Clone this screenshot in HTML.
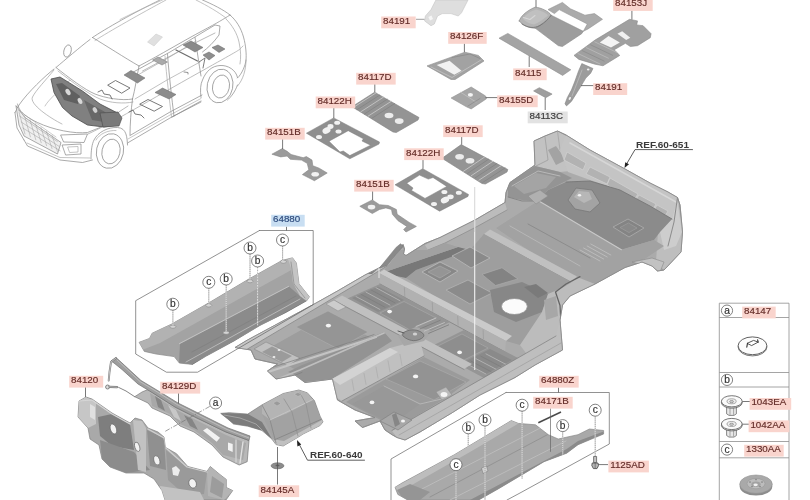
<!DOCTYPE html>
<html><head><meta charset="utf-8"><title>Floor covering parts diagram</title>
<style>
html,body{margin:0;padding:0;background:#fff;}
svg{display:block;font-family:"Liberation Sans",sans-serif;}
</style></head>
<body>
<svg width="810" height="500" viewBox="0 0 810 500">
<defs>
<filter id="soft" x="-5%" y="-5%" width="110%" height="110%"><feGaussianBlur stdDeviation="0.45"/></filter>
<filter id="tsoft" x="-5%" y="-20%" width="110%" height="140%"><feGaussianBlur stdDeviation="0.3"/></filter>
<filter id="gsoft" filterUnits="userSpaceOnUse" x="0" y="0" width="810" height="500"><feGaussianBlur stdDeviation="0.4"/></filter>
<filter id="soft2" x="-5%" y="-5%" width="110%" height="110%"><feGaussianBlur stdDeviation="0.8"/></filter>
</defs>
<rect width="810" height="500" fill="#fff"/>
<g filter="url(#gsoft)">
<g filter="url(#soft)">
<polygon points="534.0,141.0 545.0,136.0 557.5,131.0 566.0,135.0 590.0,150.0 625.0,169.0 650.0,183.0 668.0,192.0 677.5,197.5 680.0,205.0 682.5,232.0 681.0,252.0 664.0,270.0 657.5,271.0 652.0,266.0 642.0,262.0 625.0,267.5 595.0,284.0 570.0,296.0 562.5,305.0 560.0,320.0 562.5,350.0 535.0,365.0 515.0,377.5 480.0,395.0 452.5,412.5 420.0,432.0 405.0,440.0 397.0,437.5 392.5,435.0 385.0,430.0 380.0,421.0 362.5,427.5 355.0,421.0 375.0,417.5 355.0,410.0 337.5,400.0 332.5,379.0 305.0,382.5 295.0,375.0 276.0,379.0 267.5,371.0 277.5,364.0 255.0,359.0 251.0,350.0 235.0,347.5 247.5,340.0 280.0,322.5 312.5,305.0 337.5,291.0 365.0,275.0 380.0,267.5 400.0,249.0 403.0,244.5 404.5,249.0 403.5,254.0 406.0,255.5 425.0,243.5 440.0,237.5 475.0,220.0 505.0,202.5 506.0,192.5 510.0,182.5 535.0,165.0" fill="#ababab" stroke="#8a8a8a" stroke-width="0.8" stroke-linejoin="round" />
</g>
<g filter="url(#soft)">
<clipPath id="fc"><polygon points="534.0,141.0 545.0,136.0 557.5,131.0 566.0,135.0 590.0,150.0 625.0,169.0 650.0,183.0 668.0,192.0 677.5,197.5 680.0,205.0 682.5,232.0 681.0,252.0 664.0,270.0 657.5,271.0 652.0,266.0 642.0,262.0 625.0,267.5 595.0,284.0 570.0,296.0 562.5,305.0 560.0,320.0 562.5,350.0 535.0,365.0 515.0,377.5 480.0,395.0 452.5,412.5 420.0,432.0 405.0,440.0 397.0,437.5 392.5,435.0 385.0,430.0 380.0,421.0 362.5,427.5 355.0,421.0 375.0,417.5 355.0,410.0 337.5,400.0 332.5,379.0 305.0,382.5 295.0,375.0 276.0,379.0 267.5,371.0 277.5,364.0 255.0,359.0 251.0,350.0 235.0,347.5 247.5,340.0 280.0,322.5 312.5,305.0 337.5,291.0 365.0,275.0 380.0,267.5 400.0,249.0 403.0,244.5 404.5,249.0 403.5,254.0 406.0,255.5 425.0,243.5 440.0,237.5 475.0,220.0 505.0,202.5 506.0,192.5 510.0,182.5 535.0,165.0"/></clipPath>
<g clip-path="url(#fc)">
<polygon points="534.0,141.0 557.5,131.0 600.0,156.0 580.0,170.0 560.0,172.0 535.0,166.0" fill="#c2c2c2" stroke="none" stroke-width="0.6" stroke-linejoin="round" />
<polyline points="545.0,137.0 548.0,160.0 536.0,166.0" fill="none" stroke="#9a9a9a" stroke-width="0.7" stroke-linejoin="round" stroke-linecap="round" />
<polyline points="557.5,131.0 560.0,150.0 580.0,168.0" fill="none" stroke="#a0a0a0" stroke-width="0.7" stroke-linejoin="round" stroke-linecap="round" />
<polygon points="548.0,150.0 556.0,146.0 566.0,160.0 556.0,165.0" fill="#a3a3a3" stroke="none" stroke-width="0.6" stroke-linejoin="round" />
<polygon points="566.0,135.0 677.5,197.5 682.0,232.0 672.0,219.0 650.0,206.0 620.0,190.0 590.0,180.0 568.0,172.0 560.0,150.0" fill="#c4c4c4" stroke="none" stroke-width="0.6" stroke-linejoin="round" />
<polyline points="570.0,143.0 676.0,202.0" fill="none" stroke="#d6d6d6" stroke-width="1.6" stroke-linejoin="round" stroke-linecap="round" />
<polygon points="567.0,152.0 586.0,163.0 583.0,170.0 564.0,160.0" fill="#b2b2b2" stroke="#cfcfcf" stroke-width="0.8" stroke-linejoin="round" />
<polygon points="590.0,167.0 610.0,177.0 607.0,184.0 586.0,174.0" fill="#b2b2b2" stroke="#cfcfcf" stroke-width="0.8" stroke-linejoin="round" />
<polygon points="610.0,178.0 638.0,194.0 634.0,200.0 607.0,185.0" fill="#b2b2b2" stroke="#cfcfcf" stroke-width="0.8" stroke-linejoin="round" />
<polygon points="639.0,195.0 656.0,204.0 652.0,211.0 635.0,201.0" fill="#b2b2b2" stroke="#cfcfcf" stroke-width="0.8" stroke-linejoin="round" />
<polygon points="657.0,205.0 668.0,211.0 664.0,218.0 653.0,212.0" fill="#b2b2b2" stroke="#cfcfcf" stroke-width="0.8" stroke-linejoin="round" />
<polygon points="677.5,197.5 683.0,232.0 681.0,252.0 664.0,270.0 656.0,262.0 658.0,232.0 672.0,219.0" fill="#bebebe" stroke="none" stroke-width="0.6" stroke-linejoin="round" />
<polygon points="672.0,219.0 677.0,200.0 682.0,232.0 676.0,246.0 664.0,250.0 660.0,232.0" fill="#cdcdcd" stroke="none" stroke-width="0.6" stroke-linejoin="round" />
<polyline points="677.5,197.5 674.0,222.0 668.0,246.0" fill="none" stroke="#7a7a7a" stroke-width="0.8" stroke-linejoin="round" stroke-linecap="round" />
<polygon points="538.5,200.8 548.0,190.0 566.0,182.0 590.0,181.0 620.0,190.0 650.0,206.0 672.0,219.0 660.0,232.0 654.0,240.0 621.4,249.7" fill="#8b8b8b" stroke="none" stroke-width="0.6" stroke-linejoin="round" />
<polyline points="566.0,182.0 590.0,181.0 620.0,190.0 650.0,206.0 672.0,219.0" fill="none" stroke="#777" stroke-width="0.9" stroke-linejoin="round" stroke-linecap="round" />
<polygon points="496.0,228.0 538.5,200.8 621.4,249.7 654.0,240.0 664.0,246.0 640.0,262.0 625.0,267.5 595.0,284.0 572.0,280.0" fill="#a2a2a2" stroke="none" stroke-width="0.6" stroke-linejoin="round" />
<polyline points="538.5,200.8 621.4,249.7" fill="none" stroke="#c8c8c8" stroke-width="1.1" stroke-linejoin="round" stroke-linecap="round" />
<polyline points="528.0,224.0 590.0,258.0" fill="none" stroke="#8c8c8c" stroke-width="1.0" stroke-linejoin="round" stroke-linecap="round" />
<polyline points="510.0,226.0 580.0,266.0" fill="none" stroke="#bcbcbc" stroke-width="0.8" stroke-linejoin="round" stroke-linecap="round" />
<polygon points="568.0,200.0 576.0,188.0 592.0,190.0 600.0,203.0 590.0,212.0 575.0,209.0" fill="#a3a3a3" stroke="#787878" stroke-width="0.8" stroke-linejoin="round" />
<polygon points="574.0,197.0 579.0,191.0 589.0,192.0 592.0,199.0 584.0,203.0" fill="#b7b7b7" stroke="none" stroke-width="0.6" stroke-linejoin="round" />
<ellipse cx="579.5" cy="195.2" rx="1.7" ry="1.3" fill="#f2f2f2" stroke="none" stroke-width="0.6"/>
<path d="M613,227 L628,219 L644,228 L629,237 Z" fill="#848484" stroke="#a6a6a6" stroke-width="1" stroke-linejoin="round"/>
<path d="M620,227.5 L628.5,223 L637,228 L629,232.5 Z" fill="#898989" stroke="#9e9e9e" stroke-width="0.7" stroke-linejoin="round"/>
<polyline points="580.0,250.0 600.0,261.0" fill="none" stroke="#c2c2c2" stroke-width="0.8" stroke-linejoin="round" stroke-linecap="round" />
<polyline points="583.6,248.0 603.6,259.0" fill="none" stroke="#c2c2c2" stroke-width="0.8" stroke-linejoin="round" stroke-linecap="round" />
<polyline points="587.2,246.0 607.2,257.0" fill="none" stroke="#c2c2c2" stroke-width="0.8" stroke-linejoin="round" stroke-linecap="round" />
<polyline points="590.8,244.0 610.8,255.0" fill="none" stroke="#c2c2c2" stroke-width="0.8" stroke-linejoin="round" stroke-linecap="round" />
<polygon points="632.0,262.0 652.0,258.0 664.0,262.0 660.0,272.0 652.0,268.0" fill="#c2c2c2" stroke="#8a8a8a" stroke-width="0.6" stroke-linejoin="round" />
<ellipse cx="640" cy="263.5" rx="1.8" ry="1.2" fill="#f4f4f4" stroke="none" stroke-width="0.6"/>
<polygon points="508.0,183.0 535.0,166.0 560.0,172.0 572.0,178.0 548.0,190.0 538.5,201.0 522.0,200.0 508.0,197.0" fill="#949494" stroke="none" stroke-width="0.6" stroke-linejoin="round" />
<polygon points="514.0,186.0 536.0,173.0 556.0,177.0 546.0,188.0 524.0,194.0" fill="#a4a4a4" stroke="none" stroke-width="0.6" stroke-linejoin="round" />
<polyline points="512.0,186.0 538.0,171.0 560.0,176.0" fill="none" stroke="#c2c2c2" stroke-width="0.8" stroke-linejoin="round" stroke-linecap="round" />
<polyline points="508.0,197.0 522.0,201.0 538.0,201.0" fill="none" stroke="#7e7e7e" stroke-width="0.8" stroke-linejoin="round" stroke-linecap="round" />
<polygon points="528.0,196.0 540.0,190.0 548.0,196.0 536.0,204.0" fill="#b0b0b0" stroke="#8a8a8a" stroke-width="0.5" stroke-linejoin="round" />
<polygon points="484.0,234.0 490.0,229.5 577.0,276.5 571.0,282.0" fill="#c0c0c0" stroke="none" stroke-width="0.6" stroke-linejoin="round" />
<polyline points="484.0,235.0 571.0,282.0" fill="none" stroke="#8c8c8c" stroke-width="0.7" stroke-linejoin="round" stroke-linecap="round" />
<polygon points="235.0,347.5 400.0,250.0 404.0,256.0 240.0,353.5" fill="#c7c7c7" stroke="none" stroke-width="0.6" stroke-linejoin="round" />
<polyline points="240.0,353.5 404.0,256.0" fill="none" stroke="#888" stroke-width="0.8" stroke-linejoin="round" stroke-linecap="round" />
<polygon points="425.0,245.0 440.0,237.5 475.0,220.0 505.0,202.5 507.0,210.0 478.0,226.0 445.0,243.0 428.0,250.0" fill="#bcbcbc" stroke="none" stroke-width="0.6" stroke-linejoin="round" />
<polyline points="428.0,250.0 445.0,243.0 478.0,226.0 507.0,210.0" fill="none" stroke="#8a8a8a" stroke-width="0.7" stroke-linejoin="round" stroke-linecap="round" />
<polygon points="406.0,278.0 416.0,270.0 470.0,250.0 484.0,234.0 571.0,282.0 562.0,305.0 560.0,320.0 520.0,345.0 506.0,341.0" fill="#9e9e9e" stroke="none" stroke-width="0.6" stroke-linejoin="round" />
<polygon points="382.0,273.0 458.0,247.0 470.0,250.0 416.0,270.0 406.0,278.0" fill="#787878" stroke="none" stroke-width="0.6" stroke-linejoin="round" />
<polygon points="399.0,245.0 403.0,247.0 372.0,274.0 367.0,274.0" fill="#818181" stroke="none" stroke-width="0.6" stroke-linejoin="round" />
<polygon points="400.0,250.0 428.0,250.0 445.0,243.0 458.0,247.0 382.0,273.0" fill="#a1a1a1" stroke="none" stroke-width="0.6" stroke-linejoin="round" />
<polygon points="422.0,272.0 440.0,262.0 458.0,271.0 440.0,282.0" fill="#888888" stroke="#bdbdbd" stroke-width="0.8" stroke-linejoin="round" />
<polygon points="428.0,272.0 440.0,266.0 451.0,271.5 440.0,278.0" fill="#959595" stroke="#b4b4b4" stroke-width="0.5" stroke-linejoin="round" />
<polygon points="452.0,256.0 470.0,247.0 490.0,258.0 471.0,268.0" fill="#8a8a8a" stroke="#bababa" stroke-width="0.8" stroke-linejoin="round" />
<polygon points="482.0,274.4 502.0,267.8 517.8,278.9 495.5,285.5" fill="#838383" stroke="#b0b0b0" stroke-width="0.6" stroke-linejoin="round" />
<polygon points="446.0,290.0 468.0,280.0 492.0,293.0 470.0,304.0" fill="#8b8b8b" stroke="#b8b8b8" stroke-width="0.7" stroke-linejoin="round" />
<polygon points="490.0,290.0 522.0,282.0 548.0,294.0 542.0,312.0 516.0,322.0 494.0,312.0" fill="#878787" stroke="none" stroke-width="0.6" stroke-linejoin="round" />
<polygon points="524.0,287.0 536.0,284.0 548.0,293.0 538.0,298.0" fill="#7a7a7a" stroke="none" stroke-width="0.6" stroke-linejoin="round" />
<polygon points="548.0,294.0 562.0,288.0 572.0,282.0 577.0,277.0 595.0,284.0 570.0,296.0 562.5,305.0 560.0,320.0 562.5,350.0 535.0,365.0 520.0,345.0 542.0,312.0" fill="#bcbcbc" stroke="none" stroke-width="0.6" stroke-linejoin="round" />
<polyline points="580.0,276.7 566.0,284.0 555.5,292.0 560.0,305.5 561.0,323.0" fill="none" stroke="#666" stroke-width="1.3" stroke-linejoin="round" stroke-linecap="round" />
<polygon points="544.0,300.0 556.0,296.0 558.0,316.0 546.0,320.0" fill="#a7a7a7" stroke="none" stroke-width="0.6" stroke-linejoin="round" />
<polygon points="379.0,273.0 384.0,269.5 512.0,336.0 506.0,341.0" fill="#cacaca" stroke="none" stroke-width="0.6" stroke-linejoin="round" />
<polygon points="379.0,273.0 506.0,341.0 505.0,352.0 380.0,284.0" fill="#b1b1b1" stroke="none" stroke-width="0.6" stroke-linejoin="round" />
<polyline points="380.0,284.0 505.0,352.0" fill="none" stroke="#828282" stroke-width="0.8" stroke-linejoin="round" stroke-linecap="round" />
<polyline points="404.4,287.6 404.8,296.6" fill="none" stroke="#9a9a9a" stroke-width="0.7" stroke-linejoin="round" stroke-linecap="round" />
<polyline points="432.3,302.6 432.7,311.6" fill="none" stroke="#9a9a9a" stroke-width="0.7" stroke-linejoin="round" stroke-linecap="round" />
<polyline points="457.7,316.2 458.1,325.2" fill="none" stroke="#9a9a9a" stroke-width="0.7" stroke-linejoin="round" stroke-linecap="round" />
<polyline points="483.1,329.8 483.5,338.8" fill="none" stroke="#9a9a9a" stroke-width="0.7" stroke-linejoin="round" stroke-linecap="round" />
<polygon points="344.0,300.0 380.0,284.0 450.0,322.0 412.0,340.0" fill="#959595" stroke="none" stroke-width="0.6" stroke-linejoin="round" />
<polygon points="352.0,298.0 378.0,286.5 404.0,300.0 378.0,312.0" fill="#8a8a8a" stroke="none" stroke-width="0.6" stroke-linejoin="round" />
<polyline points="356.0,296.5 380.0,309.5" fill="none" stroke="#bababa" stroke-width="0.8" stroke-linejoin="round" stroke-linecap="round" />
<polyline points="361.0,294.3 385.0,307.3" fill="none" stroke="#7e7e7e" stroke-width="0.8" stroke-linejoin="round" stroke-linecap="round" />
<polyline points="366.0,292.1 390.0,305.1" fill="none" stroke="#bababa" stroke-width="0.8" stroke-linejoin="round" stroke-linecap="round" />
<polyline points="371.0,289.9 395.0,302.9" fill="none" stroke="#7e7e7e" stroke-width="0.8" stroke-linejoin="round" stroke-linecap="round" />
<polyline points="376.0,287.7 400.0,300.7" fill="none" stroke="#bababa" stroke-width="0.8" stroke-linejoin="round" stroke-linecap="round" />
<polygon points="380.0,313.0 404.0,301.5 436.0,318.0 410.0,330.0" fill="#8f8f8f" stroke="#b0b0b0" stroke-width="0.5" stroke-linejoin="round" />
<polygon points="428.0,348.0 464.0,330.0 518.0,358.0 484.0,378.0" fill="#959595" stroke="none" stroke-width="0.6" stroke-linejoin="round" />
<polygon points="436.0,347.0 462.0,334.0 488.0,348.0 462.0,361.0" fill="#8e8e8e" stroke="#b0b0b0" stroke-width="0.5" stroke-linejoin="round" />
<polygon points="464.0,362.0 490.0,349.0 512.0,360.0 486.0,374.0" fill="#8a8a8a" stroke="none" stroke-width="0.6" stroke-linejoin="round" />
<polyline points="466.0,363.5 486.0,374.0" fill="none" stroke="#bababa" stroke-width="0.8" stroke-linejoin="round" stroke-linecap="round" />
<polyline points="471.0,361.1 491.0,371.6" fill="none" stroke="#7e7e7e" stroke-width="0.8" stroke-linejoin="round" stroke-linecap="round" />
<polyline points="476.0,358.7 496.0,369.2" fill="none" stroke="#bababa" stroke-width="0.8" stroke-linejoin="round" stroke-linecap="round" />
<polyline points="481.0,356.3 501.0,366.8" fill="none" stroke="#7e7e7e" stroke-width="0.8" stroke-linejoin="round" stroke-linecap="round" />
<polyline points="486.0,353.9 506.0,364.4" fill="none" stroke="#bababa" stroke-width="0.8" stroke-linejoin="round" stroke-linecap="round" />
<polygon points="334.0,300.0 342.0,295.5 472.0,364.0 464.0,369.0" fill="#c0c0c0" stroke="none" stroke-width="0.6" stroke-linejoin="round" />
<polyline points="334.0,300.5 464.0,369.5" fill="none" stroke="#868686" stroke-width="0.8" stroke-linejoin="round" stroke-linecap="round" />
<polygon points="334.0,300.0 326.0,304.0 338.0,311.0 346.0,307.0" fill="#cccccc" stroke="#8a8a8a" stroke-width="0.5" stroke-linejoin="round" />
<polygon points="262.0,352.0 326.0,316.0 370.0,337.0 300.0,372.0" fill="#9d9d9d" stroke="none" stroke-width="0.6" stroke-linejoin="round" />
<polygon points="296.0,327.0 328.0,311.0 368.0,332.0 338.0,349.0" fill="#959595" stroke="#b2b2b2" stroke-width="0.5" stroke-linejoin="round" />
<polygon points="254.0,349.0 266.0,342.0 300.0,358.0 288.0,366.0" fill="#c0c0c0" stroke="#8a8a8a" stroke-width="0.6" stroke-linejoin="round" />
<polygon points="262.0,352.0 272.0,346.5 292.0,356.0 282.0,362.0" fill="#9b9b9b" stroke="none" stroke-width="0.6" stroke-linejoin="round" />
<ellipse cx="279" cy="350" rx="1.4" ry="1.0" fill="#eee" stroke="none" stroke-width="0.6"/>
<ellipse cx="274" cy="357" rx="1.4" ry="1.0" fill="#eee" stroke="none" stroke-width="0.6"/>
<polygon points="288.0,372.0 296.0,375.0 305.0,382.5 332.0,379.0 392.0,341.0 384.0,332.0 352.0,345.0 300.0,366.0" fill="#939393" stroke="none" stroke-width="0.6" stroke-linejoin="round" />
<polyline points="268.0,372.0 376.0,337.0" fill="none" stroke="#c4c4c4" stroke-width="2.2" stroke-linejoin="round" stroke-linecap="round" />
<polyline points="266.0,369.4 374.0,334.6" fill="none" stroke="#7e7e7e" stroke-width="0.7" stroke-linejoin="round" stroke-linecap="round" />
<polyline points="280.0,378.0 300.0,370.0 384.0,333.0" fill="none" stroke="#bebebe" stroke-width="1.8" stroke-linejoin="round" stroke-linecap="round" />
<polyline points="282.0,380.4 302.0,372.4" fill="none" stroke="#7e7e7e" stroke-width="0.7" stroke-linejoin="round" stroke-linecap="round" />
<polygon points="305.0,382.0 332.0,379.0 390.0,348.0 420.0,340.0 424.0,356.0 342.0,401.0 337.0,398.0" fill="#c0c0c0" stroke="none" stroke-width="0.6" stroke-linejoin="round" />
<polygon points="332.0,379.0 390.0,348.0 398.0,352.0 340.0,385.0" fill="#d3d3d3" stroke="none" stroke-width="0.6" stroke-linejoin="round" />
<polyline points="342.0,401.0 424.0,356.0" fill="none" stroke="#868686" stroke-width="0.8" stroke-linejoin="round" stroke-linecap="round" />
<polyline points="352.0,379.7 354.0,390.7" fill="none" stroke="#adadad" stroke-width="0.8" stroke-linejoin="round" stroke-linecap="round" />
<polyline points="364.0,373.4 366.0,384.4" fill="none" stroke="#adadad" stroke-width="0.8" stroke-linejoin="round" stroke-linecap="round" />
<polyline points="376.0,367.1 378.0,378.1" fill="none" stroke="#adadad" stroke-width="0.8" stroke-linejoin="round" stroke-linecap="round" />
<polyline points="388.0,360.8 390.0,371.8" fill="none" stroke="#adadad" stroke-width="0.8" stroke-linejoin="round" stroke-linecap="round" />
<polyline points="400.0,354.5 402.0,365.5" fill="none" stroke="#adadad" stroke-width="0.8" stroke-linejoin="round" stroke-linecap="round" />
<polygon points="398.0,336.0 416.0,327.0 432.0,331.0 424.0,341.0 404.0,346.0" fill="#a7a7a7" stroke="none" stroke-width="0.6" stroke-linejoin="round" />
<polyline points="416.0,326.5 436.0,318.0" fill="none" stroke="#c4c4c4" stroke-width="0.9" stroke-linejoin="round" stroke-linecap="round" />
<polyline points="420.2,328.8 440.2,320.3" fill="none" stroke="#808080" stroke-width="0.9" stroke-linejoin="round" stroke-linecap="round" />
<polyline points="424.4,331.1 444.4,322.6" fill="none" stroke="#c4c4c4" stroke-width="0.9" stroke-linejoin="round" stroke-linecap="round" />
<polyline points="428.6,333.4 448.6,324.9" fill="none" stroke="#808080" stroke-width="0.9" stroke-linejoin="round" stroke-linecap="round" />
<path d="M403,333 C408,329 416,329 421,332 S424,338 418,340 S406,339 403,336 Z" fill="#929292" stroke="#666" stroke-width="0.7" stroke-linejoin="round" stroke-linecap="round" />
<polyline points="398.0,331.0 404.0,333.0" fill="none" stroke="#555" stroke-width="0.9" stroke-linejoin="round" stroke-linecap="round" />
<ellipse cx="415" cy="334" rx="2.2" ry="1.6" fill="#d1d1d1" stroke="none" stroke-width="0.6"/>
<polygon points="346.0,402.0 424.0,357.0 470.0,380.0 446.0,398.0 396.0,428.0" fill="#9b9b9b" stroke="none" stroke-width="0.6" stroke-linejoin="round" />
<polygon points="386.0,379.0 420.0,361.0 466.0,382.0 434.0,400.0" fill="#939393" stroke="#b2b2b2" stroke-width="0.5" stroke-linejoin="round" />
<polygon points="352.0,404.0 384.0,386.0 420.0,404.0 392.0,424.0" fill="#989898" stroke="none" stroke-width="0.6" stroke-linejoin="round" />
<polyline points="384.0,386.0 420.0,404.0 446.0,398.0" fill="none" stroke="#bcbcbc" stroke-width="0.8" stroke-linejoin="round" stroke-linecap="round" />
<polygon points="397.0,437.5 405.0,440.0 562.5,350.0 560.0,320.0 556.0,336.0 392.0,431.0" fill="#bebebe" stroke="none" stroke-width="0.6" stroke-linejoin="round" />
<polyline points="392.0,430.4 556.0,336.0" fill="none" stroke="#858585" stroke-width="0.8" stroke-linejoin="round" stroke-linecap="round" />
<polyline points="399.0,435.0 561.0,343.0" fill="none" stroke="#9e9e9e" stroke-width="0.7" stroke-linejoin="round" stroke-linecap="round" />
<polygon points="380.0,421.0 394.0,412.0 412.0,420.0 398.0,430.0" fill="#a7a7a7" stroke="#7c7c7c" stroke-width="0.6" stroke-linejoin="round" />
<polygon points="392.0,415.0 396.0,413.0 400.0,424.0 395.0,427.0" fill="#868686" stroke="none" stroke-width="0.6" stroke-linejoin="round" />
<polygon points="436.0,392.0 446.0,387.0 452.0,395.0 442.0,400.0" fill="#bababa" stroke="#8a8a8a" stroke-width="0.5" stroke-linejoin="round" />
<ellipse cx="328.4" cy="325.6" rx="2.6" ry="1.9" fill="#f4f4f4" stroke="none" stroke-width="0.6"/>
<ellipse cx="389.6" cy="311.6" rx="2.4" ry="1.8" fill="#f4f4f4" stroke="none" stroke-width="0.6"/>
<ellipse cx="415.6" cy="376.4" rx="2.6" ry="1.9" fill="#f4f4f4" stroke="none" stroke-width="0.6"/>
<ellipse cx="444" cy="394.4" rx="3.4" ry="2.5" fill="#f4f4f4" stroke="none" stroke-width="0.6"/>
<ellipse cx="372" cy="402.4" rx="2.4" ry="1.8" fill="#f4f4f4" stroke="none" stroke-width="0.6"/>
<ellipse cx="459.6" cy="352.4" rx="2.4" ry="1.8" fill="#f4f4f4" stroke="none" stroke-width="0.6"/>
<ellipse cx="403" cy="421" rx="2.0" ry="1.5" fill="#f4f4f4" stroke="none" stroke-width="0.6"/>
<ellipse cx="514.4" cy="306.5" rx="12.9" ry="8.0" fill="#fbfbfb" stroke="#8a8a8a" stroke-width="0.7"/>
</g>
<polygon points="534.0,141.0 545.0,136.0 557.5,131.0 566.0,135.0 590.0,150.0 625.0,169.0 650.0,183.0 668.0,192.0 677.5,197.5 680.0,205.0 682.5,232.0 681.0,252.0 664.0,270.0 657.5,271.0 652.0,266.0 642.0,262.0 625.0,267.5 595.0,284.0 570.0,296.0 562.5,305.0 560.0,320.0 562.5,350.0 535.0,365.0 515.0,377.5 480.0,395.0 452.5,412.5 420.0,432.0 405.0,440.0 397.0,437.5 392.5,435.0 385.0,430.0 380.0,421.0 362.5,427.5 355.0,421.0 375.0,417.5 355.0,410.0 337.5,400.0 332.5,379.0 305.0,382.5 295.0,375.0 276.0,379.0 267.5,371.0 277.5,364.0 255.0,359.0 251.0,350.0 235.0,347.5 247.5,340.0 280.0,322.5 312.5,305.0 337.5,291.0 365.0,275.0 380.0,267.5 400.0,249.0 403.0,244.5 404.5,249.0 403.5,254.0 406.0,255.5 425.0,243.5 440.0,237.5 475.0,220.0 505.0,202.5 506.0,192.5 510.0,182.5 535.0,165.0" fill="none" stroke="#8a8a8a" stroke-width="0.8" stroke-linejoin="round" />
</g>
<g filter="url(#soft)">
<polygon points="379.0,268.5 396.0,247.5 400.5,243.8 403.2,246.0 387.0,265.5" fill="#8a8a8a" stroke="#777" stroke-width="0.5" stroke-linejoin="round" />
</g>
<line x1="474.7" y1="187" x2="474.7" y2="370" stroke="#f2f2f2" stroke-width="1.1" />
<line x1="474.7" y1="187" x2="474.7" y2="232" stroke="#c4c4c4" stroke-width="0.6" />
<line x1="379" y1="268" x2="379" y2="278" stroke="#eee" stroke-width="0.9" />
<g filter="url(#soft)">
<polygon points="435.9,0.0 468.0,0.0 461.5,12.8 458.3,16.0 451.0,13.6 442.3,13.6 437.5,16.0 434.3,24.0 431.0,25.7 424.6,20.9 425.4,16.0 431.0,9.6" fill="#dedede" stroke="#c4c4c4" stroke-width="0.6" stroke-linejoin="round" />
<polygon points="428.3,17.0 431.5,15.6 433.0,19.0 430.0,20.6" fill="#f6f6f6" stroke="none" stroke-width="0.6" stroke-linejoin="round" />
<line x1="416" y1="19.3" x2="424.5" y2="19.3" stroke="#888" stroke-width="0.8" />
<polygon points="427.0,65.9 464.8,52.2 478.4,55.4 484.0,61.0 455.1,79.5 451.0,79.5" fill="#a2a2a2" stroke="#8c8c8c" stroke-width="0.6" stroke-linejoin="round" />
<polygon points="436.7,65.0 449.5,60.7 461.5,70.7 454.3,74.7" fill="#f2f2f2" stroke="none" stroke-width="0.6" stroke-linejoin="round" />
<polyline points="431.0,67.0 452.0,77.5 481.0,60.0" fill="none" stroke="#c4c4c4" stroke-width="0.8" stroke-linejoin="round" stroke-linecap="round" />
<polyline points="452.0,57.5 470.0,54.0 480.0,58.5" fill="none" stroke="#8a8a8a" stroke-width="0.8" stroke-linejoin="round" stroke-linecap="round" />
<line x1="464.4" y1="43.5" x2="464.4" y2="52.2" stroke="#555" stroke-width="0.8" />
<polygon points="451.1,98.0 471.2,87.0 485.6,96.0 486.4,98.8 471.2,108.9 466.4,106.8" fill="#a6a6a6" stroke="#909090" stroke-width="0.6" stroke-linejoin="round" />
<polyline points="461.0,92.5 476.0,102.0" fill="none" stroke="#bcbcbc" stroke-width="1" stroke-linejoin="round" stroke-linecap="round" />
<polyline points="468.0,106.0 480.0,98.5" fill="none" stroke="#8c8c8c" stroke-width="0.8" stroke-linejoin="round" stroke-linecap="round" />
<ellipse cx="470.4" cy="94.8" rx="2.6" ry="1.9" fill="#f4f4f4" stroke="none" stroke-width="0.6"/>
<line x1="485.6" y1="97.6" x2="498.5" y2="97.6" stroke="#555" stroke-width="0.8" />
<polygon points="499.0,38.2 507.8,33.4 570.8,69.8 562.6,75.4" fill="#a4a4a4" stroke="#8e8e8e" stroke-width="0.6" stroke-linejoin="round" />
<line x1="529.2" y1="56.2" x2="529.2" y2="67" stroke="#555" stroke-width="0.8" />
<polygon points="533.6,90.9 539.3,87.7 552.1,94.1 545.7,97.7" fill="#9e9e9e" stroke="#8a8a8a" stroke-width="0.6" stroke-linejoin="round" />
<line x1="545.2" y1="97.7" x2="545.2" y2="110" stroke="#555" stroke-width="0.8" />
<polygon points="548.0,9.6 562.4,2.4 570.4,8.8 584.9,15.2 594.5,13.6 602.5,19.3 588.1,28.9 583.3,31.3 587.3,24.0 559.2,9.6 554.4,13.6" fill="#ababab" stroke="#929292" stroke-width="0.6" stroke-linejoin="round" />
<polygon points="551.2,15.2 583.3,31.3 581.7,33.7 562.4,46.5 558.4,45.7 535.1,28.1 544.8,22.5" fill="#9d9d9d" stroke="#8c8c8c" stroke-width="0.6" stroke-linejoin="round" />
<path d="M519.3,21 C520,17 526,11 535,7.2 C541,7.5 549,11.5 551.2,15.2 C549,19 541,25 535,28.2 C530,28 523,26 519.3,21 Z" fill="#b4b4b4" stroke="#8a8a8a" stroke-width="0.7" stroke-linejoin="round" stroke-linecap="round" />
<path d="M523,19 C526,14 531,11 536,9.5 C541,10.5 546,13 548,15.5 C544,19 539,22.5 534,24.5 C530,24 526,22 523,19 Z" fill="#c0c0c0" stroke="none" stroke-width="0.7" stroke-linejoin="round" stroke-linecap="round" />
<polyline points="523.5,17.5 530.0,19.5 535.0,15.5" fill="none" stroke="#d6d6d6" stroke-width="1.1" stroke-linejoin="round" stroke-linecap="round" />
<path d="M522,24 C528,28 534,28.6 540,25.5 C545,22.5 549,18.5 551,15.4" fill="none" stroke="#767676" stroke-width="0.9" stroke-linejoin="round" stroke-linecap="round" />
<line x1="536" y1="0" x2="536" y2="7.2" stroke="#555" stroke-width="0.8" />
<polygon points="574.0,55.4 595.0,40.1 629.5,19.3 637.5,20.9 636.7,24.9 643.1,25.7 651.1,33.7 650.3,37.7 637.5,45.7 630.3,46.5 625.4,43.3 614.2,49.8 619.8,55.4 603.0,65.8 595.0,64.2 578.9,59.4" fill="#a0a0a0" stroke="#8a8a8a" stroke-width="0.6" stroke-linejoin="round" />
<polygon points="599.8,42.5 608.6,36.1 619.8,42.5 611.0,47.4" fill="#f4f4f4" stroke="none" stroke-width="0.6" stroke-linejoin="round" />
<polygon points="617.4,33.7 622.2,31.3 630.3,37.7 626.2,40.1" fill="#f0f0f0" stroke="none" stroke-width="0.6" stroke-linejoin="round" />
<polyline points="578.0,53.5 600.0,64.0" fill="none" stroke="#bdbdbd" stroke-width="0.8" stroke-linejoin="round" stroke-linecap="round" />
<polyline points="582.2,50.6 604.2,61.1" fill="none" stroke="#8c8c8c" stroke-width="0.8" stroke-linejoin="round" stroke-linecap="round" />
<polyline points="586.4,47.7 608.4,58.2" fill="none" stroke="#bdbdbd" stroke-width="0.8" stroke-linejoin="round" stroke-linecap="round" />
<polyline points="590.6,44.8 612.6,55.3" fill="none" stroke="#8c8c8c" stroke-width="0.8" stroke-linejoin="round" stroke-linecap="round" />
<polyline points="594.8,41.9 616.8,52.4" fill="none" stroke="#bdbdbd" stroke-width="0.8" stroke-linejoin="round" stroke-linecap="round" />
<line x1="631.9" y1="10.5" x2="631.9" y2="19.5" stroke="#555" stroke-width="0.8" />
<polygon points="581.8,63.6 593.0,68.5 590.6,73.3 585.8,78.1 581.0,86.1 577.0,92.5 571.4,101.4 566.5,105.9 565.0,103.8 567.4,97.4 571.4,90.1 574.6,82.1 578.6,70.9" fill="#9c9c9c" stroke="#858585" stroke-width="0.6" stroke-linejoin="round" />
<ellipse cx="588.2" cy="69.6" rx="1.3" ry="1.0" fill="#f0f0f0" stroke="none" stroke-width="0.6"/>
<ellipse cx="569.8" cy="98.4" rx="1.0" ry="1.6" fill="#f0f0f0" stroke="none" stroke-width="0.6" transform="rotate(30 569.8 98.4)"/>
<polyline points="582.0,70.0 572.0,96.0" fill="none" stroke="#c0c0c0" stroke-width="0.7" stroke-linejoin="round" stroke-linecap="round" />
<line x1="581" y1="85.6" x2="593.8" y2="85.6" stroke="#555" stroke-width="0.8" />
<polygon points="352.0,106.7 374.6,92.2 419.0,117.5 418.0,120.0 396.3,132.5 393.0,132.0" fill="#949494" stroke="#808080" stroke-width="0.6" stroke-linejoin="round" />
<polyline points="353.3,107.5 375.9,93.0" fill="none" stroke="#c6c6c6" stroke-width="0.9" stroke-linejoin="round" stroke-linecap="round" />
<polyline points="357.1,109.6 379.7,95.1" fill="none" stroke="#858585" stroke-width="0.9" stroke-linejoin="round" stroke-linecap="round" />
<polyline points="360.8,111.8 383.4,97.2" fill="none" stroke="#c6c6c6" stroke-width="0.9" stroke-linejoin="round" stroke-linecap="round" />
<polyline points="364.5,114.0 387.1,99.3" fill="none" stroke="#858585" stroke-width="0.9" stroke-linejoin="round" stroke-linecap="round" />
<polyline points="368.2,116.1 390.9,101.5" fill="none" stroke="#c6c6c6" stroke-width="0.9" stroke-linejoin="round" stroke-linecap="round" />
<polyline points="371.9,118.3 394.6,103.6" fill="none" stroke="#858585" stroke-width="0.9" stroke-linejoin="round" stroke-linecap="round" />
<ellipse cx="389" cy="115.5" rx="4.4" ry="2.8" fill="#ececec" stroke="none" stroke-width="0.6"/>
<ellipse cx="399.2" cy="121.1" rx="4.4" ry="2.8" fill="#ececec" stroke="none" stroke-width="0.6"/>
<line x1="374.8" y1="84" x2="374.8" y2="92.2" stroke="#555" stroke-width="0.8" />
<polygon points="442.0,158.3 461.2,144.6 507.8,169.5 507.0,172.0 485.3,184.0 482.0,183.5" fill="#949494" stroke="#808080" stroke-width="0.6" stroke-linejoin="round" />
<polyline points="463.6,171.2 484.5,157.1" fill="none" stroke="#c6c6c6" stroke-width="0.9" stroke-linejoin="round" stroke-linecap="round" />
<polyline points="467.5,173.4 488.6,159.2" fill="none" stroke="#858585" stroke-width="0.9" stroke-linejoin="round" stroke-linecap="round" />
<polyline points="471.3,175.7 492.7,161.4" fill="none" stroke="#c6c6c6" stroke-width="0.9" stroke-linejoin="round" stroke-linecap="round" />
<polyline points="475.1,177.9 496.8,163.6" fill="none" stroke="#858585" stroke-width="0.9" stroke-linejoin="round" stroke-linecap="round" />
<polyline points="478.9,180.2 500.9,165.8" fill="none" stroke="#c6c6c6" stroke-width="0.9" stroke-linejoin="round" stroke-linecap="round" />
<polyline points="482.7,182.5 505.0,168.0" fill="none" stroke="#858585" stroke-width="0.9" stroke-linejoin="round" stroke-linecap="round" />
<ellipse cx="459.6" cy="156.7" rx="4.4" ry="2.8" fill="#ececec" stroke="none" stroke-width="0.6"/>
<ellipse cx="470" cy="160.7" rx="4.4" ry="2.8" fill="#ececec" stroke="none" stroke-width="0.6"/>
<line x1="461.7" y1="137" x2="461.7" y2="144.6" stroke="#555" stroke-width="0.8" />
<path fill-rule="evenodd" fill="#8f8f8f" stroke="#7c7c7c" stroke-width="0.5" d="M306.4,133.2 L333.7,117.9 L379.5,142 L379,144 L349.8,158.8 Z M329,141.2 L348.2,130.7 L363.4,138.8 L362,141 L370.6,145.2 L349.8,155.6 L343.3,151 L340,152 Z"/>
<ellipse cx="337.2" cy="122.7" rx="3" ry="2" fill="#f2f2f2" stroke="none" stroke-width="0.6"/>
<ellipse cx="326.5" cy="130.5" rx="4.2" ry="3.0" fill="#f2f2f2" stroke="none" stroke-width="0.6" transform="rotate(-25 326.5 130.5)"/>
<ellipse cx="330.5" cy="126.5" rx="3.0" ry="2.4" fill="#f2f2f2" stroke="none" stroke-width="0.6"/>
<ellipse cx="338.5" cy="131.5" rx="3" ry="2" fill="#f2f2f2" stroke="none" stroke-width="0.6"/>
<ellipse cx="319" cy="137" rx="3" ry="2" fill="#f2f2f2" stroke="none" stroke-width="0.6"/>
<line x1="333.8" y1="108" x2="333.8" y2="118" stroke="#555" stroke-width="0.8" />
<path fill-rule="evenodd" fill="#8f8f8f" stroke="#7c7c7c" stroke-width="0.5" d="M395,184.8 L422.7,168.7 L468.5,194.4 L468,196.4 L439.6,211.2 Z M406.7,183.2 L419.5,175.1 L428.3,179.1 L433,177.5 L446.8,186.4 L425,198.4 L411.5,190.4 L413,188 Z"/>
<ellipse cx="444.4" cy="192" rx="3" ry="2" fill="#f2f2f2" stroke="none" stroke-width="0.6"/>
<ellipse cx="458.8" cy="192.8" rx="3" ry="2" fill="#f2f2f2" stroke="none" stroke-width="0.6"/>
<ellipse cx="445" cy="200" rx="4.4" ry="3.0" fill="#f2f2f2" stroke="none" stroke-width="0.6" transform="rotate(-25 445 200)"/>
<ellipse cx="450.5" cy="196.8" rx="3.2" ry="2.4" fill="#f2f2f2" stroke="none" stroke-width="0.6"/>
<ellipse cx="434" cy="204" rx="3" ry="2" fill="#f2f2f2" stroke="none" stroke-width="0.6"/>
<line x1="423" y1="160" x2="423" y2="168.7" stroke="#555" stroke-width="0.8" />
<polygon points="271.9,154.2 282.3,148.6 287.1,151.3 291.1,154.5 303.2,157.7 306.4,156.6 312.0,160.1 312.8,165.7 319.2,168.2 327.2,173.0 314.4,180.7 302.4,174.6 308.8,169.8 307.2,163.3 301.5,160.1 290.3,159.3 287.1,156.1 280.7,156.9" fill="#9b9b9b" stroke="#868686" stroke-width="0.6" stroke-linejoin="round" />
<ellipse cx="315.2" cy="174.3" rx="3.8" ry="2.3" fill="#f2f2f2" stroke="none" stroke-width="0.6"/>
<line x1="282.6" y1="139" x2="282.6" y2="149" stroke="#555" stroke-width="0.8" />
<polygon points="359.8,206.3 372.3,199.9 379.5,204.7 388.3,205.5 396.4,209.5 397.2,214.3 409.2,222.4 416.4,226.4 406.0,232.0 403.6,229.6 406.8,226.4 398.0,220.7 392.4,214.3 391.5,209.5 385.9,207.9 379.5,209.5 372.3,213.5" fill="#9b9b9b" stroke="#868686" stroke-width="0.6" stroke-linejoin="round" />
<ellipse cx="371.5" cy="207.1" rx="3.8" ry="2.3" fill="#f2f2f2" stroke="none" stroke-width="0.6"/>
<line x1="372.6" y1="191" x2="372.6" y2="200" stroke="#555" stroke-width="0.8" />
</g>
<polyline points="259.5,230.5 313.2,230.5 313.2,304.6 197.6,372.2 166.4,372.2 135.7,354.0 135.7,300.7 259.5,230.5" fill="none" stroke="#636363" stroke-width="0.7" stroke-linejoin="round" stroke-linecap="round" />
<line x1="286.5" y1="226.7" x2="286.5" y2="230.5" stroke="#555" stroke-width="0.8" />
<g filter="url(#soft)">
<polygon points="139.1,342.3 149.5,338.4 152.1,333.2 171.6,324.1 208.0,303.3 249.6,278.6 282.1,260.4 292.5,257.8 296.4,263.0 299.0,283.8 309.4,296.8 306.8,300.7 286.0,312.4 260.0,325.4 234.0,341.0 205.4,356.6 192.4,364.4 179.4,363.1 174.2,356.6 156.0,354.0 144.3,351.4" fill="#a3a3a3" stroke="#8a8a8a" stroke-width="0.7" stroke-linejoin="round" />
<clipPath id="c64"><polygon points="139.1,342.3 149.5,338.4 152.1,333.2 171.6,324.1 208.0,303.3 249.6,278.6 282.1,260.4 292.5,257.8 296.4,263.0 299.0,283.8 309.4,296.8 306.8,300.7 286.0,312.4 260.0,325.4 234.0,341.0 205.4,356.6 192.4,364.4 179.4,363.1 174.2,356.6 156.0,354.0 144.3,351.4"/></clipPath><g clip-path="url(#c64)">
<polygon points="139.0,342.0 152.0,333.0 208.0,303.3 249.6,278.6 282.0,260.4 292.5,257.8 295.0,268.0 255.0,290.0 212.0,314.0 160.0,343.0 142.0,350.0" fill="#b2b2b2" stroke="none" stroke-width="0.6" stroke-linejoin="round" />
<polygon points="180.0,344.0 289.0,286.5 300.0,296.0 306.0,301.0 192.0,365.0 179.0,363.0" fill="#8b8b8b" stroke="none" stroke-width="0.6" stroke-linejoin="round" />
<polyline points="179.4,343.6 288.6,286.4" fill="none" stroke="#c2c2c2" stroke-width="1.0" stroke-linejoin="round" stroke-linecap="round" />
<polyline points="192.0,352.0 296.0,296.0" fill="none" stroke="#808080" stroke-width="0.8" stroke-linejoin="round" stroke-linecap="round" />
<polyline points="186.0,362.0 300.0,299.0" fill="none" stroke="#b8b8b8" stroke-width="1.0" stroke-linejoin="round" stroke-linecap="round" />
<polyline points="192.4,364.6 306.8,301.0" fill="none" stroke="#666" stroke-width="0.9" stroke-linejoin="round" stroke-linecap="round" />
<polygon points="288.0,259.0 293.0,257.5 297.0,263.0 299.5,284.0 310.0,297.0 307.0,301.0 300.0,296.0 293.0,283.0 291.0,268.0" fill="#c4c4c4" stroke="none" stroke-width="0.6" stroke-linejoin="round" />
<polyline points="291.0,262.0 294.0,284.0 305.0,298.0" fill="none" stroke="#8a8a8a" stroke-width="0.7" stroke-linejoin="round" stroke-linecap="round" />
</g>
<ellipse cx="172.9" cy="326.7" rx="3.0" ry="1.6" fill="#d4d4d4" stroke="#7a7a7a" stroke-width="0.5"/>
<ellipse cx="208.8" cy="305.4" rx="3.0" ry="1.6" fill="#d4d4d4" stroke="#7a7a7a" stroke-width="0.5"/>
<ellipse cx="226.2" cy="332.7" rx="3.0" ry="1.6" fill="#d4d4d4" stroke="#7a7a7a" stroke-width="0.5"/>
<ellipse cx="250" cy="281.2" rx="3.0" ry="1.6" fill="#d4d4d4" stroke="#7a7a7a" stroke-width="0.5"/>
<ellipse cx="283.4" cy="261.7" rx="3.0" ry="1.6" fill="#d4d4d4" stroke="#7a7a7a" stroke-width="0.5"/>
</g>
<line x1="172.9" y1="310" x2="172.9" y2="325.4" stroke="#e4e4e4" stroke-width="1.1" />
<line x1="172.9" y1="310" x2="172.9" y2="325.4" stroke="#858585" stroke-width="0.7" stroke-dasharray="1.3,0.8"/>
<line x1="208.8" y1="288" x2="208.8" y2="304.6" stroke="#e4e4e4" stroke-width="1.1" />
<line x1="208.8" y1="288" x2="208.8" y2="304.6" stroke="#858585" stroke-width="0.7" stroke-dasharray="1.3,0.8"/>
<line x1="226.2" y1="285" x2="226.2" y2="332" stroke="#e4e4e4" stroke-width="1.1" />
<line x1="226.2" y1="285" x2="226.2" y2="332" stroke="#858585" stroke-width="0.7" stroke-dasharray="1.3,0.8"/>
<line x1="250" y1="254" x2="250" y2="280" stroke="#e4e4e4" stroke-width="1.1" />
<line x1="250" y1="254" x2="250" y2="280" stroke="#858585" stroke-width="0.7" stroke-dasharray="1.3,0.8"/>
<line x1="257.6" y1="267" x2="257.6" y2="325.4" stroke="#e6e6e6" stroke-width="0.9" />
<line x1="257.6" y1="267" x2="257.6" y2="325.4" stroke="#888" stroke-width="0.6" stroke-dasharray="1.2,1.6"/>
<line x1="282.6" y1="246" x2="282.6" y2="261" stroke="#e4e4e4" stroke-width="1.1" />
<line x1="282.6" y1="246" x2="282.6" y2="261" stroke="#858585" stroke-width="0.7" stroke-dasharray="1.3,0.8"/>
<circle cx="282.5" cy="240" r="6.0" fill="#fff" stroke="#5a5a5a" stroke-width="0.75" filter="url(#tsoft)"/>
<text x="282.5" y="243.1" font-size="10.2" fill="#333" stroke="#333" stroke-width="0.2" text-anchor="middle" filter="url(#tsoft)">c</text>
<circle cx="250" cy="248" r="6.0" fill="#fff" stroke="#5a5a5a" stroke-width="0.75" filter="url(#tsoft)"/>
<text x="250" y="251.1" font-size="10.2" fill="#333" stroke="#333" stroke-width="0.2" text-anchor="middle" filter="url(#tsoft)">b</text>
<circle cx="257.6" cy="261" r="6.0" fill="#fff" stroke="#5a5a5a" stroke-width="0.75" filter="url(#tsoft)"/>
<text x="257.6" y="264.1" font-size="10.2" fill="#333" stroke="#333" stroke-width="0.2" text-anchor="middle" filter="url(#tsoft)">b</text>
<circle cx="226.2" cy="279" r="6.0" fill="#fff" stroke="#5a5a5a" stroke-width="0.75" filter="url(#tsoft)"/>
<text x="226.2" y="282.1" font-size="10.2" fill="#333" stroke="#333" stroke-width="0.2" text-anchor="middle" filter="url(#tsoft)">b</text>
<circle cx="208.8" cy="282.3" r="6.0" fill="#fff" stroke="#5a5a5a" stroke-width="0.75" filter="url(#tsoft)"/>
<text x="208.8" y="285.40000000000003" font-size="10.2" fill="#333" stroke="#333" stroke-width="0.2" text-anchor="middle" filter="url(#tsoft)">c</text>
<circle cx="172.8" cy="304.2" r="6.0" fill="#fff" stroke="#5a5a5a" stroke-width="0.75" filter="url(#tsoft)"/>
<text x="172.8" y="307.3" font-size="10.2" fill="#333" stroke="#333" stroke-width="0.2" text-anchor="middle" filter="url(#tsoft)">b</text>
<polyline points="506.0,392.5 609.3,392.5 609.3,444.0 520.0,493.0 507.0,500.0" fill="none" stroke="#636363" stroke-width="0.7" stroke-linejoin="round" stroke-linecap="round" />
<polyline points="506.0,392.5 391.0,459.0 391.0,500.0" fill="none" stroke="#636363" stroke-width="0.7" stroke-linejoin="round" stroke-linecap="round" />
<line x1="558.5" y1="387.5" x2="558.5" y2="392.5" stroke="#555" stroke-width="0.8" />
<g filter="url(#soft)">
<polygon points="395.0,487.3 402.0,483.0 454.6,454.6 511.3,420.6 518.4,423.4 535.5,424.8 548.3,434.7 558.2,439.0 578.0,434.7 589.4,429.0 603.6,430.5 603.6,434.0 595.0,437.6 578.0,444.7 566.7,453.2 544.0,461.7 498.6,488.7 478.7,500.0 407.7,500.0 397.8,494.4" fill="#a9a9a9" stroke="#8a8a8a" stroke-width="0.7" stroke-linejoin="round" />
<clipPath id="ccz"><polygon points="395.0,487.3 402.0,483.0 454.6,454.6 511.3,420.6 518.4,423.4 535.5,424.8 548.3,434.7 558.2,439.0 578.0,434.7 589.4,429.0 603.6,430.5 603.6,434.0 595.0,437.6 578.0,444.7 566.7,453.2 544.0,461.7 498.6,488.7 478.7,500.0 407.7,500.0 397.8,494.4"/></clipPath><g clip-path="url(#ccz)">
<polygon points="395.0,487.3 454.6,454.6 511.3,420.6 518.4,423.4 470.0,452.0 410.0,486.0 400.0,494.0" fill="#bdbdbd" stroke="none" stroke-width="0.6" stroke-linejoin="round" />
<polygon points="470.0,500.0 566.7,449.0 578.0,441.0 603.6,431.5 604.0,436.0 578.0,446.0 566.7,455.0 544.0,463.0 480.0,502.0" fill="#8b8b8b" stroke="none" stroke-width="0.6" stroke-linejoin="round" />
<polyline points="430.0,497.0 560.0,428.0" fill="none" stroke="#8e8e8e" stroke-width="0.8" stroke-linejoin="round" stroke-linecap="round" />
<polyline points="420.0,490.0 548.0,424.0" fill="none" stroke="#c0c0c0" stroke-width="0.8" stroke-linejoin="round" stroke-linecap="round" />
<polyline points="450.0,500.0 566.0,441.0" fill="none" stroke="#c0c0c0" stroke-width="0.8" stroke-linejoin="round" stroke-linecap="round" />
<polygon points="397.0,490.0 410.0,484.0 430.0,492.0 420.0,500.0 404.0,500.0" fill="#959595" stroke="none" stroke-width="0.6" stroke-linejoin="round" />
</g>
<polygon points="481.5,468.0 486.5,466.0 488.0,471.0 483.0,473.5" fill="#d0d0d0" stroke="#777" stroke-width="0.5" stroke-linejoin="round" />
</g>
<line x1="538.3" y1="422.8" x2="561" y2="412" stroke="#4a4a4a" stroke-width="1.5" />
<line x1="550.5" y1="408.3" x2="550.5" y2="451.8" stroke="#666" stroke-width="0.7" />
<line x1="522.1" y1="411" x2="522.1" y2="478.8" stroke="#e4e4e4" stroke-width="1.1" />
<line x1="522.1" y1="411" x2="522.1" y2="478.8" stroke="#858585" stroke-width="0.7" stroke-dasharray="1.3,0.8"/>
<line x1="485" y1="426" x2="485" y2="500" stroke="#e4e4e4" stroke-width="1.1" />
<line x1="485" y1="426" x2="485" y2="500" stroke="#858585" stroke-width="0.7" stroke-dasharray="1.3,0.8"/>
<line x1="468.2" y1="433.5" x2="468.2" y2="447.5" stroke="#e4e4e4" stroke-width="1.1" />
<line x1="468.2" y1="433.5" x2="468.2" y2="447.5" stroke="#858585" stroke-width="0.7" stroke-dasharray="1.3,0.8"/>
<line x1="562.7" y1="431.3" x2="562.7" y2="454.6" stroke="#e4e4e4" stroke-width="1.1" />
<line x1="562.7" y1="431.3" x2="562.7" y2="454.6" stroke="#858585" stroke-width="0.7" stroke-dasharray="1.3,0.8"/>
<line x1="595.2" y1="415.3" x2="595.2" y2="456" stroke="#e4e4e4" stroke-width="1.1" />
<line x1="595.2" y1="415.3" x2="595.2" y2="456" stroke="#858585" stroke-width="0.7" stroke-dasharray="1.3,0.8"/>
<line x1="456" y1="470.5" x2="456" y2="500" stroke="#e4e4e4" stroke-width="1.1" />
<line x1="456" y1="470.5" x2="456" y2="500" stroke="#858585" stroke-width="0.7" stroke-dasharray="1.3,0.8"/>
<circle cx="522.1" cy="405.2" r="6.0" fill="#fff" stroke="#5a5a5a" stroke-width="0.75" filter="url(#tsoft)"/>
<text x="522.1" y="408.3" font-size="10.2" fill="#333" stroke="#333" stroke-width="0.2" text-anchor="middle" filter="url(#tsoft)">c</text>
<circle cx="485" cy="420" r="6.0" fill="#fff" stroke="#5a5a5a" stroke-width="0.75" filter="url(#tsoft)"/>
<text x="485" y="423.1" font-size="10.2" fill="#333" stroke="#333" stroke-width="0.2" text-anchor="middle" filter="url(#tsoft)">b</text>
<circle cx="468.4" cy="427.8" r="6.0" fill="#fff" stroke="#5a5a5a" stroke-width="0.75" filter="url(#tsoft)"/>
<text x="468.4" y="430.90000000000003" font-size="10.2" fill="#333" stroke="#333" stroke-width="0.2" text-anchor="middle" filter="url(#tsoft)">b</text>
<circle cx="562.7" cy="425.6" r="6.0" fill="#fff" stroke="#5a5a5a" stroke-width="0.75" filter="url(#tsoft)"/>
<text x="562.7" y="428.70000000000005" font-size="10.2" fill="#333" stroke="#333" stroke-width="0.2" text-anchor="middle" filter="url(#tsoft)">b</text>
<circle cx="595.2" cy="410.2" r="6.0" fill="#fff" stroke="#5a5a5a" stroke-width="0.75" filter="url(#tsoft)"/>
<text x="595.2" y="413.3" font-size="10.2" fill="#333" stroke="#333" stroke-width="0.2" text-anchor="middle" filter="url(#tsoft)">c</text>
<circle cx="456" cy="464.7" r="6.0" fill="#fff" stroke="#5a5a5a" stroke-width="0.75" filter="url(#tsoft)"/>
<text x="456" y="467.8" font-size="10.2" fill="#333" stroke="#333" stroke-width="0.2" text-anchor="middle" filter="url(#tsoft)">c</text>
<g filter="url(#soft)">
<polygon points="593.6,456.5 596.6,456.5 596.6,462.6 593.6,462.6" fill="#c4c4c4" stroke="#4a4a4a" stroke-width="0.7" stroke-linejoin="round" />
<polygon points="592.2,463.0 598.0,463.0 598.6,465.5 597.0,468.6 593.4,468.6 591.8,465.5" fill="#b4b4b4" stroke="#444" stroke-width="0.8" stroke-linejoin="round" />
<line x1="595.2" y1="463" x2="595.2" y2="468.6" stroke="#555" stroke-width="0.6" />
</g>
<line x1="598" y1="464.6" x2="608" y2="464.6" stroke="#555" stroke-width="0.8" />
<g filter="url(#soft)">
<polygon points="220.7,413.4 229.2,412.7 247.7,414.1 261.9,404.9 283.2,393.5 298.8,390.0 307.3,392.8 314.4,400.6 320.1,416.2 323.0,421.9 320.1,425.5 303.1,434.0 298.8,436.8 283.2,446.0 276.0,444.6 271.8,439.0 261.9,430.4 247.7,426.2 233.5,424.0 227.8,419.0" fill="#a6a6a6" stroke="#7e7e7e" stroke-width="0.7" stroke-linejoin="round" />
<clipPath id="ctc"><polygon points="220.7,413.4 229.2,412.7 247.7,414.1 261.9,404.9 283.2,393.5 298.8,390.0 307.3,392.8 314.4,400.6 320.1,416.2 323.0,421.9 320.1,425.5 303.1,434.0 298.8,436.8 283.2,446.0 276.0,444.6 271.8,439.0 261.9,430.4 247.7,426.2 233.5,424.0 227.8,419.0"/></clipPath><g clip-path="url(#ctc)">
<polygon points="220.0,413.0 248.0,414.0 262.0,422.0 272.0,439.0 262.0,431.0 247.7,426.2 233.5,424.0 227.0,419.0" fill="#7c7c7c" stroke="none" stroke-width="0.6" stroke-linejoin="round" />
<polyline points="224.0,415.0 240.0,418.0 256.0,424.0 268.0,436.0" fill="none" stroke="#a8a8a8" stroke-width="0.9" stroke-linejoin="round" stroke-linecap="round" />
<polygon points="262.0,405.0 283.2,393.5 298.8,390.0 307.3,392.8 313.0,400.0 286.0,414.0 270.0,420.0 262.0,414.0" fill="#b4b4b4" stroke="none" stroke-width="0.6" stroke-linejoin="round" />
<polygon points="262.0,414.0 270.0,420.0 286.0,414.0 313.0,400.0 320.0,416.0 322.0,421.0 284.0,442.0 274.0,440.0 268.0,428.0" fill="#a2a2a2" stroke="none" stroke-width="0.6" stroke-linejoin="round" />
<polygon points="272.0,439.0 284.0,441.0 322.0,420.0 323.0,422.0 320.0,425.5 283.0,446.0 276.0,444.6" fill="#c0c0c0" stroke="none" stroke-width="0.6" stroke-linejoin="round" />
<polyline points="262.0,405.0 270.0,420.0 276.0,443.0" fill="none" stroke="#868686" stroke-width="0.8" stroke-linejoin="round" stroke-linecap="round" />
<polyline points="270.0,420.0 313.0,399.5" fill="none" stroke="#c8c8c8" stroke-width="0.8" stroke-linejoin="round" stroke-linecap="round" />
<polyline points="284.0,399.0 292.0,412.0 298.0,436.0" fill="none" stroke="#8e8e8e" stroke-width="0.7" stroke-linejoin="round" stroke-linecap="round" />
<polyline points="300.0,393.0 306.0,404.0 311.0,428.0" fill="none" stroke="#8e8e8e" stroke-width="0.7" stroke-linejoin="round" stroke-linecap="round" />
<polyline points="274.0,440.0 322.0,419.0" fill="none" stroke="#7e7e7e" stroke-width="0.7" stroke-linejoin="round" stroke-linecap="round" />
<polygon points="273.0,403.0 277.0,401.0 281.0,403.5 277.0,406.0" fill="#9a9a9a" stroke="#c4c4c4" stroke-width="0.5" stroke-linejoin="round" />
<polygon points="294.0,394.0 298.0,392.5 302.0,394.5 298.0,396.5" fill="#9a9a9a" stroke="#c4c4c4" stroke-width="0.5" stroke-linejoin="round" />
</g>
<ellipse cx="277.5" cy="465.8" rx="6.4" ry="3.0" fill="#8c8c8c" stroke="#666" stroke-width="0.6"/>
<ellipse cx="277.5" cy="465.4" rx="2.0" ry="0.9" fill="#5e5e5e" stroke="none" stroke-width="0.6"/>
</g>
<line x1="277.5" y1="447" x2="277.5" y2="484.5" stroke="#555" stroke-width="0.8" />
<text x="310" y="458" font-size="9.6" font-weight="bold" fill="#3a3a3a" textLength="52.5" lengthAdjust="spacingAndGlyphs">REF.60-640</text>
<polyline points="364.5,460.2 307.5,460.2 298.5,443.0" fill="none" stroke="#333" stroke-width="0.8" stroke-linejoin="round" stroke-linecap="round" />
<polygon points="297.0,440.0 301.2,444.6 297.4,446.4" fill="#222" stroke="none" stroke-width="0.6" stroke-linejoin="round" />
<text x="636" y="147.6" font-size="9.6" font-weight="bold" fill="#3a3a3a" textLength="53" lengthAdjust="spacingAndGlyphs">REF.60-651</text>
<polyline points="692.5,149.6 635.0,149.6 626.0,165.0" fill="none" stroke="#333" stroke-width="0.8" stroke-linejoin="round" stroke-linecap="round" />
<polygon points="624.5,168.0 625.2,162.2 629.0,164.2" fill="#222" stroke="none" stroke-width="0.6" stroke-linejoin="round" />
<g filter="url(#soft)">
<polygon points="134.7,396.7 142.0,392.0 148.0,389.5 157.0,395.5 175.0,407.0 196.0,417.5 226.0,432.0 249.0,440.5 247.2,461.7 239.2,465.0 223.0,457.0 212.0,445.0 194.0,432.0 180.0,426.0 170.0,416.0 152.0,408.0 148.0,403.0" fill="#b8b8b8" stroke="#7a7a7a" stroke-width="0.7" stroke-linejoin="round" />
<clipPath id="ccw"><polygon points="134.7,396.7 142.0,392.0 148.0,389.5 157.0,395.5 175.0,407.0 196.0,417.5 226.0,432.0 249.0,440.5 247.2,461.7 239.2,465.0 223.0,457.0 212.0,445.0 194.0,432.0 180.0,426.0 170.0,416.0 152.0,408.0 148.0,403.0"/></clipPath><g clip-path="url(#ccw)">
<polygon points="150.0,393.0 175.0,409.0 196.0,420.0 226.0,435.0 246.0,443.0 243.0,460.0 223.0,455.0 212.0,443.0 194.0,430.0 180.0,424.0 170.0,414.0 152.0,406.0" fill="#a8a8a8" stroke="none" stroke-width="0.6" stroke-linejoin="round" />
<polygon points="203.0,430.4 207.0,428.0 220.0,437.7 216.7,441.7" fill="#f2f2f2" stroke="none" stroke-width="0.6" stroke-linejoin="round" />
<polygon points="228.0,442.5 232.7,444.0 232.7,452.0 228.0,450.0" fill="#f2f2f2" stroke="none" stroke-width="0.6" stroke-linejoin="round" />
<polygon points="155.0,396.0 161.0,400.0 165.0,411.0 158.0,407.0" fill="#858585" stroke="none" stroke-width="0.6" stroke-linejoin="round" />
<polygon points="168.0,405.0 176.0,410.0 181.0,421.0 174.0,417.0" fill="#c8c8c8" stroke="none" stroke-width="0.6" stroke-linejoin="round" />
<polygon points="184.0,415.0 192.0,419.0 198.0,430.0 190.0,426.0" fill="#858585" stroke="none" stroke-width="0.6" stroke-linejoin="round" />
<polyline points="236.0,440.0 236.0,462.0" fill="none" stroke="#d0d0d0" stroke-width="1.4" stroke-linejoin="round" stroke-linecap="round" />
<polyline points="243.0,442.0 240.0,463.0" fill="none" stroke="#e0e0e0" stroke-width="1.4" stroke-linejoin="round" stroke-linecap="round" />
</g>
<polygon points="111.0,361.0 116.1,357.6 124.8,365.6 141.0,380.5 159.6,391.7 178.0,403.0 200.0,414.0 228.0,428.0 250.0,436.0 249.0,440.5 226.0,432.0 196.0,417.5 175.0,407.0 157.0,395.5 138.0,384.0 122.0,369.5 114.0,363.0" fill="#9e9e9e" stroke="#6e6e6e" stroke-width="0.7" stroke-linejoin="round" />
<polyline points="117.0,360.0 140.0,381.5 159.0,393.0 177.0,404.5 199.0,415.5 227.0,429.5 249.0,438.0" fill="none" stroke="#c4c4c4" stroke-width="0.8" stroke-linejoin="round" stroke-linecap="round" />
<polyline points="116.0,358.0 111.0,362.0 109.5,372.0 108.7,380.5" fill="none" stroke="#7a7a7a" stroke-width="1.9" stroke-linejoin="round" stroke-linecap="round" />
<polyline points="116.0,358.0 111.0,362.0 109.5,372.0 108.7,380.5" fill="none" stroke="#e0e0e0" stroke-width="0.7" stroke-linejoin="round" stroke-linecap="round" />
<ellipse cx="107.6" cy="387" rx="2.0" ry="2.0" fill="#ddd" stroke="#777" stroke-width="0.9"/>
<polyline points="109.5,386.8 117.0,387.2" fill="none" stroke="#777" stroke-width="2.2" stroke-linejoin="round" stroke-linecap="round" />
<polyline points="109.5,386.8 117.0,387.2" fill="none" stroke="#d0d0d0" stroke-width="0.7" stroke-linejoin="round" stroke-linecap="round" />
<polyline points="118.6,387.4 126.0,391.0 134.7,396.7" fill="none" stroke="#777" stroke-width="0.9" stroke-linejoin="round" stroke-linecap="round" />
</g>
<line x1="178.5" y1="392" x2="178.5" y2="403.5" stroke="#555" stroke-width="0.8" />
<circle cx="215.6" cy="403" r="6.0" fill="#fff" stroke="#5a5a5a" stroke-width="0.75" filter="url(#tsoft)"/>
<text x="215.6" y="406.1" font-size="10.2" fill="#333" stroke="#333" stroke-width="0.2" text-anchor="middle" filter="url(#tsoft)">a</text>
<line x1="209.8" y1="406.4" x2="164" y2="432" stroke="#777" stroke-width="0.7" stroke-dasharray="5,1.5,1.2,1.5"/>
<g filter="url(#soft)">
<polygon points="79.0,401.0 86.0,397.0 92.0,399.0 112.0,413.0 130.0,423.0 135.0,418.0 142.0,420.0 148.0,428.0 158.0,432.0 164.0,437.0 165.3,447.3 176.5,453.7 187.8,466.5 207.0,471.4 210.3,466.5 220.0,474.6 226.3,479.4 226.3,487.4 232.7,490.6 226.0,500.0 165.0,500.0 162.0,490.6 154.0,479.0 144.0,473.0 126.0,473.0 110.0,467.0 102.0,459.0 99.0,445.0 90.0,439.0 88.0,428.0 78.0,417.0" fill="#a9a9a9" stroke="#808080" stroke-width="0.7" stroke-linejoin="round" />
<clipPath id="cdp"><polygon points="79.0,401.0 86.0,397.0 92.0,399.0 112.0,413.0 130.0,423.0 135.0,418.0 142.0,420.0 148.0,428.0 158.0,432.0 164.0,437.0 165.3,447.3 176.5,453.7 187.8,466.5 207.0,471.4 210.3,466.5 220.0,474.6 226.3,479.4 226.3,487.4 232.7,490.6 226.0,500.0 165.0,500.0 162.0,490.6 154.0,479.0 144.0,473.0 126.0,473.0 110.0,467.0 102.0,459.0 99.0,445.0 90.0,439.0 88.0,428.0 78.0,417.0"/></clipPath><g clip-path="url(#cdp)">
<polygon points="79.0,401.0 86.0,397.0 96.0,402.0 96.0,424.0 88.0,428.0 78.0,417.0" fill="#c6c6c6" stroke="none" stroke-width="0.6" stroke-linejoin="round" />
<polygon points="90.0,404.0 95.0,407.0 95.0,420.0 90.0,417.0" fill="#e0e0e0" stroke="none" stroke-width="0.6" stroke-linejoin="round" />
<polygon points="98.0,417.0 112.0,414.0 130.0,424.0 134.0,450.0 112.0,446.0 100.0,436.0" fill="#7e7e7e" stroke="none" stroke-width="0.6" stroke-linejoin="round" />
<polygon points="100.0,440.0 134.0,452.0 150.0,470.0 126.0,473.0 110.0,467.0 102.0,459.0" fill="#8c8c8c" stroke="none" stroke-width="0.6" stroke-linejoin="round" />
<polygon points="133.0,420.0 142.0,421.0 146.0,428.0 146.0,472.0 138.0,470.0 135.0,440.0" fill="#c2c2c2" stroke="none" stroke-width="0.6" stroke-linejoin="round" />
<polygon points="147.0,430.0 164.0,438.0 166.0,470.0 150.0,466.0" fill="#909090" stroke="none" stroke-width="0.6" stroke-linejoin="round" />
<polygon points="166.0,450.0 187.0,467.0 207.0,472.0 204.0,494.0 186.0,496.0 168.0,480.0" fill="#9a9a9a" stroke="none" stroke-width="0.6" stroke-linejoin="round" />
<polygon points="207.0,471.4 210.3,466.5 226.3,479.4 226.3,487.4 232.7,490.6 224.0,500.0 208.0,496.0" fill="#b4b4b4" stroke="none" stroke-width="0.6" stroke-linejoin="round" />
<polygon points="212.0,476.0 224.0,484.0 222.0,498.0 210.0,492.0" fill="#9c9c9c" stroke="none" stroke-width="0.6" stroke-linejoin="round" />
<polygon points="160.0,486.0 200.0,492.0 204.0,500.0 162.0,500.0" fill="#c2c2c2" stroke="none" stroke-width="0.6" stroke-linejoin="round" />
<polyline points="79.0,401.0 92.0,400.0 112.0,414.0 130.0,424.0" fill="none" stroke="#d6d6d6" stroke-width="1.2" stroke-linejoin="round" stroke-linecap="round" />
<polyline points="148.0,429.0 164.0,438.0 166.0,448.0 187.0,467.0 207.0,472.0" fill="none" stroke="#d0d0d0" stroke-width="1.2" stroke-linejoin="round" stroke-linecap="round" />
</g>
<ellipse cx="113.4" cy="429" rx="3.0" ry="5.2" fill="#f2f2f2" stroke="#6a6a6a" stroke-width="0.7" transform="rotate(-20 113.4 429)"/>
<ellipse cx="137.2" cy="446.8" rx="2.4" ry="4.8" fill="#f2f2f2" stroke="#6a6a6a" stroke-width="0.7" transform="rotate(-15 137.2 446.8)"/>
<ellipse cx="156.8" cy="460.4" rx="2.9" ry="4.8" fill="#f2f2f2" stroke="#6a6a6a" stroke-width="0.7" transform="rotate(-15 156.8 460.4)"/>
<ellipse cx="192.6" cy="483.4" rx="3.7" ry="4.8" fill="#f2f2f2" stroke="#6a6a6a" stroke-width="0.7" transform="rotate(-20 192.6 483.4)"/>
<polygon points="172.0,468.0 176.0,466.0 180.0,470.0 178.0,476.0 173.0,475.0" fill="#ececec" stroke="none" stroke-width="0.6" stroke-linejoin="round" />
</g>
<line x1="85.5" y1="386.7" x2="85.5" y2="397" stroke="#555" stroke-width="0.8" />
<polyline points="719.3,500.0 719.3,303.2 789.0,303.2 789.0,500.0" fill="none" stroke="#8e8e8e" stroke-width="0.8" stroke-linejoin="round" stroke-linecap="round" />
<line x1="719.3" y1="317.5" x2="789.0" y2="317.5" stroke="#8e8e8e" stroke-width="0.8" />
<line x1="719.3" y1="372.5" x2="789.0" y2="372.5" stroke="#8e8e8e" stroke-width="0.8" />
<line x1="719.3" y1="387" x2="789.0" y2="387" stroke="#8e8e8e" stroke-width="0.8" />
<line x1="719.3" y1="441.5" x2="789.0" y2="441.5" stroke="#8e8e8e" stroke-width="0.8" />
<line x1="719.3" y1="457.8" x2="789.0" y2="457.8" stroke="#8e8e8e" stroke-width="0.8" />
<circle cx="727" cy="310.6" r="5.6" fill="#fff" stroke="#5a5a5a" stroke-width="0.75" filter="url(#tsoft)"/>
<text x="727" y="313.70000000000005" font-size="10.2" fill="#333" stroke="#333" stroke-width="0.2" text-anchor="middle" filter="url(#tsoft)">a</text>
<circle cx="727" cy="379.9" r="5.6" fill="#fff" stroke="#5a5a5a" stroke-width="0.75" filter="url(#tsoft)"/>
<text x="727" y="383.0" font-size="10.2" fill="#333" stroke="#333" stroke-width="0.2" text-anchor="middle" filter="url(#tsoft)">b</text>
<circle cx="727" cy="449.6" r="5.6" fill="#fff" stroke="#5a5a5a" stroke-width="0.75" filter="url(#tsoft)"/>
<text x="727" y="452.70000000000005" font-size="10.2" fill="#333" stroke="#333" stroke-width="0.2" text-anchor="middle" filter="url(#tsoft)">c</text>
<g filter="url(#soft)">
<ellipse cx="752.5" cy="347.0" rx="14.4" ry="8.9" fill="#fdfdfd" stroke="#555" stroke-width="0.8"/>
<ellipse cx="752.5" cy="345.8" rx="14.4" ry="8.9" fill="#fdfdfd" stroke="#505050" stroke-width="0.9"/>
<path d="M747.5,343.2 L753.6,340.4 L758.2,342.1 L752,345.4 Z" fill="#fff" stroke="#444" stroke-width="0.9" stroke-linejoin="round" stroke-linecap="round" />
<polyline points="747.5,343.2 746.8,347.2" fill="none" stroke="#333" stroke-width="1.1" stroke-linejoin="round" stroke-linecap="round" />
<polyline points="758.2,342.1 757.6,339.8" fill="none" stroke="#333" stroke-width="1.1" stroke-linejoin="round" stroke-linecap="round" />
<polygon points="726.6,405.3 736.4,405.3 736.4,413.8 734.0,415.4 729.0,415.4 726.6,413.8" fill="#e8e8e8" stroke="#5a5a5a" stroke-width="0.7" stroke-linejoin="round" />
<line x1="730" y1="406.3" x2="730" y2="414.8" stroke="#777" stroke-width="0.6" />
<line x1="733.6" y1="406.3" x2="733.6" y2="414.8" stroke="#777" stroke-width="0.6" />
<ellipse cx="731.8" cy="402.6" rx="10.4" ry="5.6" fill="#e4e4e4" stroke="#555" stroke-width="0.8"/>
<ellipse cx="731.8" cy="401.3" rx="10.4" ry="5.6" fill="#fafafa" stroke="#555" stroke-width="0.8"/>
<ellipse cx="731.6" cy="401.3" rx="4.6" ry="2.5" fill="#f0f0f0" stroke="#777" stroke-width="0.6"/>
<ellipse cx="731.6" cy="401.6" rx="2.0" ry="1.1" fill="#ccc" stroke="#666" stroke-width="0.5"/>
<polygon points="726.6,428.0 736.4,428.0 736.4,435.5 734.0,437.1 729.0,437.1 726.6,435.5" fill="#e8e8e8" stroke="#5a5a5a" stroke-width="0.7" stroke-linejoin="round" />
<line x1="730" y1="429.0" x2="730" y2="436.5" stroke="#777" stroke-width="0.6" />
<line x1="733.6" y1="429.0" x2="733.6" y2="436.5" stroke="#777" stroke-width="0.6" />
<ellipse cx="731.8" cy="425.3" rx="10.4" ry="5.6" fill="#e4e4e4" stroke="#555" stroke-width="0.8"/>
<ellipse cx="731.8" cy="424.0" rx="10.4" ry="5.6" fill="#fafafa" stroke="#555" stroke-width="0.8"/>
<ellipse cx="731.6" cy="424.0" rx="4.6" ry="2.5" fill="#f0f0f0" stroke="#777" stroke-width="0.6"/>
<ellipse cx="731.6" cy="424.3" rx="2.0" ry="1.1" fill="#ccc" stroke="#666" stroke-width="0.5"/>
<ellipse cx="756" cy="486.4" rx="16.3" ry="9.2" fill="#8c8c8c" stroke="none" stroke-width="0.6"/>
<ellipse cx="756" cy="484.2" rx="16.3" ry="9.2" fill="#a9a9a9" stroke="#8e8e8e" stroke-width="0.6"/>
<ellipse cx="756" cy="483.6" rx="9.0" ry="5.2" fill="#bdbdbd" stroke="#999" stroke-width="0.6"/>
<ellipse cx="756" cy="484.2" rx="4.6" ry="2.7" fill="#a2a2a2" stroke="none" stroke-width="0.6"/>
<ellipse cx="755.6" cy="484.8" rx="2.2" ry="1.4" fill="#f2f2f2" stroke="none" stroke-width="0.6"/>
<ellipse cx="750" cy="482.1" rx="1.1" ry="0.8" fill="#8e8e8e" stroke="none" stroke-width="0.6"/>
<ellipse cx="762" cy="482.1" rx="1.1" ry="0.8" fill="#8e8e8e" stroke="none" stroke-width="0.6"/>
<ellipse cx="756" cy="479.6" rx="1.1" ry="0.8" fill="#8e8e8e" stroke="none" stroke-width="0.6"/>
<ellipse cx="752" cy="486.6" rx="1.1" ry="0.8" fill="#8e8e8e" stroke="none" stroke-width="0.6"/>
<ellipse cx="760" cy="486.6" rx="1.1" ry="0.8" fill="#8e8e8e" stroke="none" stroke-width="0.6"/>
</g>
<line x1="742.4" y1="401.5" x2="750" y2="401.5" stroke="#555" stroke-width="0.8" />
<line x1="742.4" y1="424.2" x2="749.4" y2="424.2" stroke="#555" stroke-width="0.8" />
<g filter="url(#soft)">
<path d="M92.5,37.5 C105,29 135,12 160,0" fill="none" stroke="#868686" stroke-width="0.7" stroke-linejoin="round" stroke-linecap="round" />
<path d="M95,40.5 C110,31 140,14 166,0" fill="none" stroke="#a8a8a8" stroke-width="0.7" stroke-linejoin="round" stroke-linecap="round" />
<path d="M92.5,37.5 C105,45 125,58 139,66" fill="none" stroke="#868686" stroke-width="0.7" stroke-linejoin="round" stroke-linecap="round" />
<path d="M139,66 C160,55 185,40 202,31 S222,20 230,15" fill="none" stroke="#868686" stroke-width="0.7" stroke-linejoin="round" stroke-linecap="round" />
<path d="M142.5,71 C165,59 190,45 215,33" fill="none" stroke="#9c9c9c" stroke-width="0.7" stroke-linejoin="round" stroke-linecap="round" />
<path d="M120,19.5 C135,12 150,5 162.5,0" fill="none" stroke="#b0b0b0" stroke-width="0.7" stroke-linejoin="round" stroke-linecap="round" />
<path d="M202.5,0 C212,4 224,10 230,15" fill="none" stroke="#868686" stroke-width="0.7" stroke-linejoin="round" stroke-linecap="round" />
<path d="M196,0 C208,6 218,12 226,18" fill="none" stroke="#aaa" stroke-width="0.7" stroke-linejoin="round" stroke-linecap="round" />
<path d="M90,39.5 C80,47 65,60 56,67.5" fill="none" stroke="#868686" stroke-width="0.7" stroke-linejoin="round" stroke-linecap="round" />
<path d="M56,67.5 C68,77 85,90 95,94 S122,101 132.5,99" fill="none" stroke="#868686" stroke-width="0.7" stroke-linejoin="round" stroke-linecap="round" />
<path d="M139,66 C137,76 135,90 132.5,99" fill="none" stroke="#868686" stroke-width="0.7" stroke-linejoin="round" stroke-linecap="round" />
<path d="M58,71 C72,82 90,95 100,99 S124,104 133,102" fill="none" stroke="#a4a4a4" stroke-width="0.7" stroke-linejoin="round" stroke-linecap="round" />
<ellipse cx="67.5" cy="51" rx="3.6" ry="6.2" fill="none" stroke="#868686" stroke-width="0.7" transform="rotate(15 67.5 51)"/>
<path d="M54,69 C45,76 28,92 19,105 L15,112.5" fill="none" stroke="#868686" stroke-width="0.7" stroke-linejoin="round" stroke-linecap="round" />
<path d="M17.5,104 C19,110 22,115 37.5,122.5 S75,134 87.5,132.5 L100,127.5" fill="none" stroke="#868686" stroke-width="0.7" stroke-linejoin="round" stroke-linecap="round" />
<path d="M54,70 C46,80 36,90 32.5,97 S50,118 62,124" fill="none" stroke="#a0a0a0" stroke-width="0.7" stroke-linejoin="round" stroke-linecap="round" />
<path d="M70,80 C60,90 48,100 45,106" fill="none" stroke="#b0b0b0" stroke-width="0.7" stroke-linejoin="round" stroke-linecap="round" />
<path d="M100,127.5 C108,120 118,112 128,106" fill="none" stroke="#9a9a9a" stroke-width="0.7" stroke-linejoin="round" stroke-linecap="round" />
<path d="M16,106 L19,125 L24,136 L57.5,154 L61,142.5 L25,117.5 Z" fill="#f0f0f0" stroke="#868686" stroke-width="0.7" stroke-linejoin="round" stroke-linecap="round" />
<polyline points="19.0,112.0 25.0,134.0" fill="none" stroke="#9a9a9a" stroke-width="0.5" stroke-linejoin="round" stroke-linecap="round" />
<polyline points="24.5,115.9 30.4,136.9" fill="none" stroke="#9a9a9a" stroke-width="0.5" stroke-linejoin="round" stroke-linecap="round" />
<polyline points="30.0,119.8 35.8,139.8" fill="none" stroke="#9a9a9a" stroke-width="0.5" stroke-linejoin="round" stroke-linecap="round" />
<polyline points="35.5,123.7 41.2,142.7" fill="none" stroke="#9a9a9a" stroke-width="0.5" stroke-linejoin="round" stroke-linecap="round" />
<polyline points="41.0,127.6 46.6,145.6" fill="none" stroke="#9a9a9a" stroke-width="0.5" stroke-linejoin="round" stroke-linecap="round" />
<polyline points="46.5,131.5 52.0,148.5" fill="none" stroke="#9a9a9a" stroke-width="0.5" stroke-linejoin="round" stroke-linecap="round" />
<polyline points="52.0,135.4 57.4,151.4" fill="none" stroke="#9a9a9a" stroke-width="0.5" stroke-linejoin="round" stroke-linecap="round" />
<polyline points="18.0,110.0 56.0,137.0" fill="none" stroke="#9a9a9a" stroke-width="0.5" stroke-linejoin="round" stroke-linecap="round" />
<polyline points="19.6,116.0 57.4,141.6" fill="none" stroke="#9a9a9a" stroke-width="0.5" stroke-linejoin="round" stroke-linecap="round" />
<polyline points="21.2,122.0 58.8,146.2" fill="none" stroke="#9a9a9a" stroke-width="0.5" stroke-linejoin="round" stroke-linecap="round" />
<polyline points="22.8,128.0 60.2,150.8" fill="none" stroke="#9a9a9a" stroke-width="0.5" stroke-linejoin="round" stroke-linecap="round" />
<path d="M24,140 L27.5,146 L60,160 L82.5,162.5 L92.5,160" fill="none" stroke="#868686" stroke-width="0.7" stroke-linejoin="round" stroke-linecap="round" />
<path d="M15,112.5 L17,128 L24,140" fill="none" stroke="#868686" stroke-width="0.7" stroke-linejoin="round" stroke-linecap="round" />
<path d="M27,143 L60,157.5 L90,158" fill="none" stroke="#aaa" stroke-width="0.7" stroke-linejoin="round" stroke-linecap="round" />
<path d="M61,135 L87.5,134 L84,142.5 L64,142 Z" fill="none" stroke="#868686" stroke-width="0.7" stroke-linejoin="round" stroke-linecap="round" />
<path d="M62.5,145 L81,144 L81,154 L66,155 Z" fill="none" stroke="#868686" stroke-width="0.7" stroke-linejoin="round" stroke-linecap="round" />
<path d="M68,147 L78,146.5 L78,152 L70,152.5 Z" fill="none" stroke="#aaa" stroke-width="0.7" stroke-linejoin="round" stroke-linecap="round" />
<path d="M91,159 C91,150 92,144 94,140 C98,132 108,127 117.5,127.5 S127,138 127.5,145" fill="none" stroke="#868686" stroke-width="0.7" stroke-linejoin="round" stroke-linecap="round" />
<ellipse cx="110" cy="151" rx="13.5" ry="17.5" fill="none" stroke="#868686" stroke-width="0.7" transform="rotate(12 110 151)"/>
<ellipse cx="111" cy="151.5" rx="9" ry="12.5" fill="none" stroke="#868686" stroke-width="0.7" transform="rotate(12 111 151.5)"/>
<path d="M96,140 C99,134 108,130 116,130.5" fill="none" stroke="#aaa" stroke-width="0.7" stroke-linejoin="round" stroke-linecap="round" />
<path d="M127.5,143 L170,118 L201,102" fill="none" stroke="#868686" stroke-width="0.7" stroke-linejoin="round" stroke-linecap="round" />
<path d="M130,135.5 L170,112 L202,95" fill="none" stroke="#868686" stroke-width="0.7" stroke-linejoin="round" stroke-linecap="round" />
<path d="M128,139 L170,115 L201,98.5" fill="none" stroke="#b0b0b0" stroke-width="0.7" stroke-linejoin="round" stroke-linecap="round" />
<path d="M88,134 C110,124 150,100 200,72 S236,52 243,46" fill="none" stroke="#a0a0a0" stroke-width="0.7" stroke-linejoin="round" stroke-linecap="round" />
<path d="M132.5,99 C131,110 130,125 130,135" fill="none" stroke="#868686" stroke-width="0.7" stroke-linejoin="round" stroke-linecap="round" />
<path d="M167.5,54 C169,75 172,100 174,116" fill="none" stroke="#868686" stroke-width="0.7" stroke-linejoin="round" stroke-linecap="round" />
<path d="M165,56 C166.5,76 169.5,100 171.5,117" fill="none" stroke="#aaa" stroke-width="0.7" stroke-linejoin="round" stroke-linecap="round" />
<path d="M195,37.5 C197,50 199,64 201,76" fill="none" stroke="#868686" stroke-width="0.7" stroke-linejoin="round" stroke-linecap="round" />
<path d="M132.5,72.5 L170,52 L215,25 L220,26 L219,35 C214,42 208,48 202.5,52" fill="none" stroke="#868686" stroke-width="0.7" stroke-linejoin="round" stroke-linecap="round" />
<path d="M136,76 L168,58 L196,41" fill="none" stroke="#a6a6a6" stroke-width="0.7" stroke-linejoin="round" stroke-linecap="round" />
<path d="M135,99 L167,80 L200,62" fill="none" stroke="#a6a6a6" stroke-width="0.7" stroke-linejoin="round" stroke-linecap="round" />
<path d="M230,15 C236,20 241,28 243.5,37 S246.5,55 246,60 S242,74 237.5,78" fill="none" stroke="#868686" stroke-width="0.7" stroke-linejoin="round" stroke-linecap="round" />
<path d="M226,19 C232,25 237,33 239,42 S241,58 240,64" fill="none" stroke="#a4a4a4" stroke-width="0.7" stroke-linejoin="round" stroke-linecap="round" />
<path d="M237.5,85 C235,92 231,97 227.5,100" fill="none" stroke="#868686" stroke-width="0.7" stroke-linejoin="round" stroke-linecap="round" />
<path d="M246,60 C246,70 243,80 237.5,86" fill="none" stroke="#a0a0a0" stroke-width="0.7" stroke-linejoin="round" stroke-linecap="round" />
<path d="M201,97.5 C200,90 200.5,84 202.5,80 C206,71 212,66 220,65.5 S236,70 237.5,77.5" fill="none" stroke="#868686" stroke-width="0.7" stroke-linejoin="round" stroke-linecap="round" />
<ellipse cx="220" cy="86" rx="12.8" ry="17" fill="none" stroke="#868686" stroke-width="0.7" transform="rotate(12 220 86)"/>
<ellipse cx="221" cy="86.5" rx="8.4" ry="11.6" fill="none" stroke="#868686" stroke-width="0.7" transform="rotate(12 221 86.5)"/>
<path d="M201,101 L172,117" fill="none" stroke="#868686" stroke-width="0.7" stroke-linejoin="round" stroke-linecap="round" />
<polygon points="51.0,79.0 60.0,77.0 82.5,91.0 100.0,104.0 117.5,113.0 118.0,125.0 104.0,127.0 87.5,125.0 72.0,116.0 62.5,107.5 54.0,92.5" fill="#808080" stroke="#4a4a4a" stroke-width="0.8" stroke-linejoin="round" />
<polygon points="56.0,84.0 62.0,83.0 80.0,96.0 78.0,104.0 64.0,100.0" fill="#606060" stroke="none" stroke-width="0.6" stroke-linejoin="round" />
<polygon points="84.0,100.0 98.0,108.0 112.0,116.0 110.0,123.0 92.0,120.0" fill="#686868" stroke="none" stroke-width="0.6" stroke-linejoin="round" />
<ellipse cx="68" cy="92" rx="2.2" ry="3.4" fill="#d8d8d8" stroke="none" stroke-width="0.6" transform="rotate(-30 68 92)"/>
<ellipse cx="80" cy="101" rx="2.0" ry="3.2" fill="#d8d8d8" stroke="none" stroke-width="0.6" transform="rotate(-30 80 101)"/>
<ellipse cx="95" cy="110" rx="2.0" ry="3.0" fill="#d0d0d0" stroke="none" stroke-width="0.6" transform="rotate(-30 95 110)"/>
<polygon points="100.0,113.0 118.0,112.0 122.0,118.0 119.0,126.0 103.0,127.0" fill="#7a7a7a" stroke="#4a4a4a" stroke-width="0.6" stroke-linejoin="round" />
<polygon points="124.0,75.0 131.0,70.5 145.0,78.0 137.5,83.0" fill="#8c8c8c" stroke="#666" stroke-width="0.5" stroke-linejoin="round" />
<polygon points="155.0,92.5 162.5,88.0 176.0,94.5 169.0,99.0" fill="#8c8c8c" stroke="#666" stroke-width="0.5" stroke-linejoin="round" />
<path d="M108,85 L115.5,80.5 L130,88 L122,93 Z" fill="none" stroke="#6a6a6a" stroke-width="0.9" stroke-linejoin="round" stroke-linecap="round" />
<path d="M140,104 L148,99.5 L162.5,106.5 L154.5,111 Z" fill="none" stroke="#6a6a6a" stroke-width="0.9" stroke-linejoin="round" stroke-linecap="round" />
<path d="M98,92 L102,90 L104,94 L110,95 L112,99" fill="none" stroke="#6a6a6a" stroke-width="0.9" stroke-linejoin="round" stroke-linecap="round" />
<path d="M129,112 L133,110 L135,114 L141,115 L144,118" fill="none" stroke="#6a6a6a" stroke-width="0.9" stroke-linejoin="round" stroke-linecap="round" />
<polygon points="152.5,60.0 158.0,57.0 167.5,62.0 162.0,65.0" fill="#aaa" stroke="#777" stroke-width="0.5" stroke-linejoin="round" />
<polygon points="183.0,45.0 191.0,41.0 203.0,47.5 195.0,52.0" fill="#8a8a8a" stroke="#666" stroke-width="0.5" stroke-linejoin="round" />
<polygon points="203.0,55.0 209.0,52.0 215.0,55.5 209.0,60.0" fill="#8e8e8e" stroke="#666" stroke-width="0.5" stroke-linejoin="round" />
<polygon points="212.0,47.5 218.0,45.0 225.0,49.0 219.0,52.5" fill="#8e8e8e" stroke="#666" stroke-width="0.5" stroke-linejoin="round" />
<polyline points="176.0,50.0 197.5,61.0" fill="none" stroke="#6e6e6e" stroke-width="1.3" stroke-linejoin="round" stroke-linecap="round" />
<polyline points="199.0,62.0 205.0,58.0 203.0,68.0" fill="none" stroke="#6e6e6e" stroke-width="0.9" stroke-linejoin="round" stroke-linecap="round" />
<polyline points="184.0,72.0 188.0,72.5 188.0,74.0" fill="none" stroke="#777" stroke-width="0.8" stroke-linejoin="round" stroke-linecap="round" />
<polygon points="147.5,42.0 156.0,34.0 162.5,37.0 154.0,46.0" fill="#e0e0e0" stroke="#c8c8c8" stroke-width="0.5" stroke-linejoin="round" />
</g>
<rect x="381.2" y="16.5" width="34.5" height="11.8" fill="#f9d4cd" filter="url(#soft)"/>
<text x="383.0" y="23.7" font-size="9.8" fill="#632c28" stroke="#632c28" stroke-width="0.16" filter="url(#tsoft)">84191</text>
<rect x="448.2" y="32.0" width="38.5" height="11.8" fill="#f9d4cd" filter="url(#soft)"/>
<text x="450.0" y="39.2" font-size="9.8" fill="#632c28" stroke="#632c28" stroke-width="0.16" filter="url(#tsoft)">84126F</text>
<rect x="513.2" y="68.4" width="33.5" height="11.8" fill="#f9d4cd" filter="url(#soft)"/>
<text x="515.0" y="75.6" font-size="9.8" fill="#632c28" stroke="#632c28" stroke-width="0.16" filter="url(#tsoft)">84115</text>
<rect x="613.2" y="-0.9" width="39.5" height="11.8" fill="#f9d4cd" filter="url(#soft)"/>
<text x="615.0" y="6.3" font-size="9.8" fill="#632c28" stroke="#632c28" stroke-width="0.16" filter="url(#tsoft)">84153J</text>
<rect x="593.2" y="83.2" width="34.0" height="11.8" fill="#f9d4cd" filter="url(#soft)"/>
<text x="595.0" y="90.4" font-size="9.8" fill="#632c28" stroke="#632c28" stroke-width="0.16" filter="url(#tsoft)">84191</text>
<rect x="497.2" y="95.4" width="40.5" height="11.8" fill="#f9d4cd" filter="url(#soft)"/>
<text x="499.0" y="102.6" font-size="9.8" fill="#632c28" stroke="#632c28" stroke-width="0.16" filter="url(#tsoft)">84155D</text>
<rect x="527.7" y="111.5" width="40.0" height="11.8" fill="#e2e2e2" filter="url(#soft)"/>
<text x="529.5" y="118.7" font-size="9.8" fill="#3a3a3a" stroke="#3a3a3a" stroke-width="0.16" filter="url(#tsoft)">84113C</text>
<rect x="356.2" y="72.8" width="39.5" height="11.8" fill="#f9d4cd" filter="url(#soft)"/>
<text x="358.0" y="80.0" font-size="9.8" fill="#632c28" stroke="#632c28" stroke-width="0.16" filter="url(#tsoft)">84117D</text>
<rect x="315.7" y="96.5" width="39.5" height="11.8" fill="#f9d4cd" filter="url(#soft)"/>
<text x="317.5" y="103.7" font-size="9.8" fill="#632c28" stroke="#632c28" stroke-width="0.16" filter="url(#tsoft)">84122H</text>
<rect x="265.2" y="127.8" width="39.5" height="11.8" fill="#f9d4cd" filter="url(#soft)"/>
<text x="267.0" y="135.0" font-size="9.8" fill="#632c28" stroke="#632c28" stroke-width="0.16" filter="url(#tsoft)">84151B</text>
<rect x="443.2" y="125.3" width="39.5" height="11.8" fill="#f9d4cd" filter="url(#soft)"/>
<text x="445.0" y="132.5" font-size="9.8" fill="#632c28" stroke="#632c28" stroke-width="0.16" filter="url(#tsoft)">84117D</text>
<rect x="404.2" y="148.3" width="39.5" height="11.8" fill="#f9d4cd" filter="url(#soft)"/>
<text x="406.0" y="155.5" font-size="9.8" fill="#632c28" stroke="#632c28" stroke-width="0.16" filter="url(#tsoft)">84122H</text>
<rect x="354.2" y="179.8" width="39.5" height="11.8" fill="#f9d4cd" filter="url(#soft)"/>
<text x="356.0" y="187.0" font-size="9.8" fill="#632c28" stroke="#632c28" stroke-width="0.16" filter="url(#tsoft)">84151B</text>
<rect x="271.2" y="214.8" width="33.5" height="11.8" fill="#c8def2" filter="url(#soft)"/>
<text x="273.0" y="222.0" font-size="9.8" fill="#2c4a7c" stroke="#2c4a7c" stroke-width="0.16" filter="url(#tsoft)">64880</text>
<rect x="69.2" y="375.8" width="34.0" height="11.8" fill="#f9d4cd" filter="url(#soft)"/>
<text x="71.0" y="383.0" font-size="9.8" fill="#632c28" stroke="#632c28" stroke-width="0.16" filter="url(#tsoft)">84120</text>
<rect x="160.2" y="381.8" width="40.0" height="11.8" fill="#f9d4cd" filter="url(#soft)"/>
<text x="162.0" y="389.0" font-size="9.8" fill="#632c28" stroke="#632c28" stroke-width="0.16" filter="url(#tsoft)">84129D</text>
<rect x="258.7" y="485.3" width="40.5" height="11.8" fill="#f9d4cd" filter="url(#soft)"/>
<text x="260.5" y="492.5" font-size="9.8" fill="#632c28" stroke="#632c28" stroke-width="0.16" filter="url(#tsoft)">84145A</text>
<rect x="539.2" y="375.8" width="39.5" height="11.8" fill="#f9d4cd" filter="url(#soft)"/>
<text x="541.0" y="383.0" font-size="9.8" fill="#632c28" stroke="#632c28" stroke-width="0.16" filter="url(#tsoft)">64880Z</text>
<rect x="533.2" y="396.8" width="39.5" height="11.8" fill="#f9d4cd" filter="url(#soft)"/>
<text x="535.0" y="404.0" font-size="9.8" fill="#632c28" stroke="#632c28" stroke-width="0.16" filter="url(#tsoft)">84171B</text>
<rect x="608.4" y="460.6" width="40.5" height="11.8" fill="#f9d4cd" filter="url(#soft)"/>
<text x="610.2" y="467.8" font-size="9.8" fill="#632c28" stroke="#632c28" stroke-width="0.16" filter="url(#tsoft)">1125AD</text>
<rect x="742.2" y="306.6" width="33.5" height="11.8" fill="#f9d4cd" filter="url(#soft)"/>
<text x="744.0" y="313.8" font-size="9.8" fill="#632c28" stroke="#632c28" stroke-width="0.16" filter="url(#tsoft)">84147</text>
<rect x="749.6" y="398.0" width="41.6" height="11.8" fill="#f9d4cd" filter="url(#soft)"/>
<text x="751.4" y="405.2" font-size="9.8" fill="#632c28" stroke="#632c28" stroke-width="0.16" filter="url(#tsoft)">1043EA</text>
<rect x="748.6" y="420.4" width="40.8" height="11.8" fill="#f9d4cd" filter="url(#soft)"/>
<text x="750.4" y="427.6" font-size="9.8" fill="#632c28" stroke="#632c28" stroke-width="0.16" filter="url(#tsoft)">1042AA</text>
<rect x="744.2" y="444.8" width="39.5" height="11.8" fill="#f9d4cd" filter="url(#soft)"/>
<text x="746.0" y="452.0" font-size="9.8" fill="#632c28" stroke="#632c28" stroke-width="0.16" filter="url(#tsoft)">1330AA</text>
</g>
</svg>
</body></html>
